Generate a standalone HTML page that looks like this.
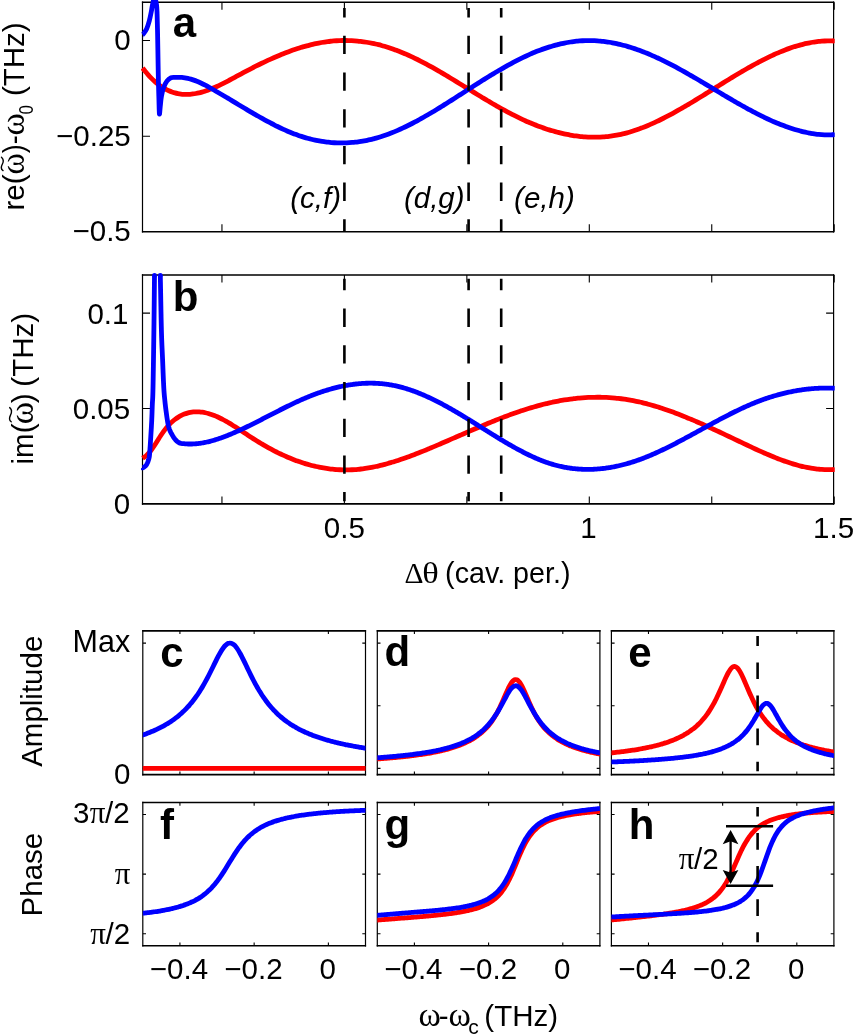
<!DOCTYPE html>
<html><head><meta charset="utf-8"><title>figure</title><style>
html,body{margin:0;padding:0;background:#fff;width:853px;height:1035px;overflow:hidden}
svg{display:block;will-change:transform}
</style></head><body>
<svg width="853" height="1035" viewBox="0 0 853 1035">
<rect width="853" height="1035" fill="#fff"/>
<defs>
<clipPath id="ca"><rect x="141.00" y="0.00" width="693.70" height="233.30"/></clipPath>
<clipPath id="cb"><rect x="141.00" y="273.70" width="693.70" height="231.70"/></clipPath>
<clipPath id="cc"><rect x="142.80" y="626.90" width="222.70" height="151.70"/></clipPath>
<clipPath id="cd"><rect x="377.30" y="626.90" width="222.60" height="151.70"/></clipPath>
<clipPath id="ce"><rect x="611.40" y="626.90" width="222.50" height="151.70"/></clipPath>
<clipPath id="cf"><rect x="142.80" y="798.50" width="222.70" height="151.20"/></clipPath>
<clipPath id="cg"><rect x="377.30" y="798.50" width="222.60" height="151.20"/></clipPath>
<clipPath id="ch"><rect x="611.40" y="798.50" width="222.50" height="151.20"/></clipPath>
</defs>
<path d="M221.95,2.30v7.50M221.95,231.80v-7.50M344.40,2.30v7.50M344.40,231.80v-7.50M466.85,2.30v7.50M466.85,231.80v-7.50M589.30,2.30v7.50M589.30,231.80v-7.50M711.75,2.30v7.50M711.75,231.80v-7.50M834.20,2.30v7.50M834.20,231.80v-7.50M142.50,40.55h7.50M833.60,40.55h-7.50M142.50,136.20h7.50M833.60,136.20h-7.50" fill="none" stroke="#000" stroke-width="1.1"/>
<path d="M142.50,1.50V232.60M833.60,1.50V232.60" fill="none" stroke="#000" stroke-width="1.2"/>
<path d="M141.90,2.30H834.20M141.90,231.80H834.20" fill="none" stroke="#000" stroke-width="1.6"/>
<path d="M221.95,275.00v7.50M221.95,503.90v-7.50M344.40,275.00v7.50M344.40,503.90v-7.50M466.85,275.00v7.50M466.85,503.90v-7.50M589.30,275.00v7.50M589.30,503.90v-7.50M711.75,275.00v7.50M711.75,503.90v-7.50M834.20,275.00v7.50M834.20,503.90v-7.50M142.50,313.10h7.50M833.60,313.10h-7.50M142.50,408.50h7.50M833.60,408.50h-7.50" fill="none" stroke="#000" stroke-width="1.1"/>
<path d="M142.50,274.20V504.70M833.60,274.20V504.70" fill="none" stroke="#000" stroke-width="1.2"/>
<path d="M141.90,275.00H834.20M141.90,503.90H834.20" fill="none" stroke="#000" stroke-width="1.6"/>
<path d="M179.92,630.90v3.20M179.92,774.60v-3.20M254.15,630.90v3.20M254.15,774.60v-3.20M328.38,630.90v3.20M328.38,774.60v-3.20M142.80,643.10h3.20M365.50,643.10h-3.20M142.80,768.40h3.20M365.50,768.40h-3.20" fill="none" stroke="#000" stroke-width="1.1"/>
<path d="M142.80,630.10V775.40M365.50,630.10V775.40" fill="none" stroke="#000" stroke-width="1.2"/>
<path d="M142.20,630.90H366.10M142.20,774.60H366.10" fill="none" stroke="#000" stroke-width="1.6"/>
<path d="M414.40,630.90v3.20M414.40,774.60v-3.20M488.60,630.90v3.20M488.60,774.60v-3.20M562.80,630.90v3.20M562.80,774.60v-3.20M377.30,643.10h3.20M599.90,643.10h-3.20M377.30,705.70h3.20M599.90,705.70h-3.20M377.30,768.40h3.20M599.90,768.40h-3.20" fill="none" stroke="#000" stroke-width="1.1"/>
<path d="M377.30,630.10V775.40M599.90,630.10V775.40" fill="none" stroke="#000" stroke-width="1.2"/>
<path d="M376.70,630.90H600.50M376.70,774.60H600.50" fill="none" stroke="#000" stroke-width="1.6"/>
<path d="M648.48,630.90v3.20M648.48,774.60v-3.20M722.65,630.90v3.20M722.65,774.60v-3.20M796.82,630.90v3.20M796.82,774.60v-3.20M611.40,643.10h3.20M833.90,643.10h-3.20M611.40,705.70h3.20M833.90,705.70h-3.20M611.40,768.40h3.20M833.90,768.40h-3.20" fill="none" stroke="#000" stroke-width="1.1"/>
<path d="M611.40,630.10V775.40M833.90,630.10V775.40" fill="none" stroke="#000" stroke-width="1.2"/>
<path d="M610.80,630.90H834.50M610.80,774.60H834.50" fill="none" stroke="#000" stroke-width="1.6"/>
<path d="M179.92,802.50v3.20M179.92,945.70v-3.20M254.15,802.50v3.20M254.15,945.70v-3.20M328.38,802.50v3.20M328.38,945.70v-3.20M142.80,814.50h3.20M365.50,814.50h-3.20M142.80,874.10h3.20M365.50,874.10h-3.20M142.80,933.80h3.20M365.50,933.80h-3.20" fill="none" stroke="#000" stroke-width="1.1"/>
<path d="M142.80,801.70V946.50M365.50,801.70V946.50" fill="none" stroke="#000" stroke-width="1.2"/>
<path d="M142.20,802.50H366.10M142.20,945.70H366.10" fill="none" stroke="#000" stroke-width="1.6"/>
<path d="M414.40,802.50v3.20M414.40,945.70v-3.20M488.60,802.50v3.20M488.60,945.70v-3.20M562.80,802.50v3.20M562.80,945.70v-3.20M377.30,814.50h3.20M599.90,814.50h-3.20M377.30,874.10h3.20M599.90,874.10h-3.20M377.30,933.80h3.20M599.90,933.80h-3.20" fill="none" stroke="#000" stroke-width="1.1"/>
<path d="M377.30,801.70V946.50M599.90,801.70V946.50" fill="none" stroke="#000" stroke-width="1.2"/>
<path d="M376.70,802.50H600.50M376.70,945.70H600.50" fill="none" stroke="#000" stroke-width="1.6"/>
<path d="M648.48,802.50v3.20M648.48,945.70v-3.20M722.65,802.50v3.20M722.65,945.70v-3.20M796.82,802.50v3.20M796.82,945.70v-3.20M611.40,814.50h3.20M833.90,814.50h-3.20M611.40,874.10h3.20M833.90,874.10h-3.20M611.40,933.80h3.20M833.90,933.80h-3.20" fill="none" stroke="#000" stroke-width="1.1"/>
<path d="M611.40,801.70V946.50M833.90,801.70V946.50" fill="none" stroke="#000" stroke-width="1.2"/>
<path d="M610.80,802.50H834.50M610.80,945.70H834.50" fill="none" stroke="#000" stroke-width="1.6"/>
<path d="M142.50,68.00 C142.92,68.51 144.08,69.96 145.00,71.07 C145.92,72.17 147.00,73.50 147.99,74.63 C148.99,75.76 149.99,76.84 150.99,77.86 C151.99,78.88 152.98,79.84 153.98,80.76 C154.98,81.67 155.98,82.53 156.98,83.34 C157.97,84.16 158.97,84.92 159.97,85.63 C160.97,86.34 161.97,87.00 162.96,87.62 C163.96,88.23 164.96,88.80 165.96,89.33 C166.96,89.85 167.95,90.33 168.95,90.77 C169.95,91.21 170.95,91.60 171.95,91.95 C172.94,92.30 173.94,92.61 174.94,92.89 C175.94,93.16 176.94,93.39 177.93,93.59 C178.93,93.78 179.93,93.94 180.93,94.06 C181.92,94.19 182.92,94.27 183.92,94.33 C184.92,94.38 185.92,94.40 186.91,94.39 C187.91,94.38 188.91,94.34 189.91,94.27 C190.91,94.19 191.90,94.09 192.90,93.96 C193.90,93.83 194.90,93.67 195.90,93.49 C196.89,93.30 197.89,93.09 198.89,92.86 C199.89,92.63 200.89,92.37 201.88,92.09 C202.88,91.81 203.88,91.50 204.88,91.18 C205.88,90.86 206.87,90.51 207.87,90.15 C208.87,89.79 209.87,89.41 210.87,89.01 C211.86,88.62 212.86,88.20 213.86,87.78 C214.86,87.35 215.86,86.90 216.85,86.45 C217.85,86.00 218.85,85.53 219.85,85.05 C220.85,84.57 221.84,84.08 222.84,83.58 C223.84,83.08 224.84,82.57 225.84,82.06 C226.83,81.54 227.83,81.02 228.83,80.50 C229.83,79.97 230.83,79.44 231.82,78.90 C232.82,78.37 233.82,77.83 234.82,77.29 C235.82,76.75 236.81,76.20 237.81,75.66 C238.81,75.12 239.81,74.58 240.81,74.04 C241.80,73.50 242.80,72.97 243.80,72.43 C244.80,71.90 245.80,71.37 246.79,70.85 C247.79,70.32 248.79,69.80 249.79,69.28 C250.78,68.76 251.78,68.25 252.78,67.74 C253.78,67.23 254.78,66.72 255.77,66.22 C256.77,65.72 257.77,65.22 258.77,64.73 C259.77,64.24 260.76,63.75 261.76,63.27 C262.76,62.78 263.76,62.31 264.76,61.83 C265.75,61.36 266.75,60.89 267.75,60.43 C268.75,59.97 269.75,59.51 270.74,59.06 C271.74,58.61 272.74,58.17 273.74,57.73 C274.74,57.29 275.73,56.86 276.73,56.43 C277.73,56.00 278.73,55.58 279.73,55.17 C280.72,54.76 281.72,54.35 282.72,53.95 C283.72,53.55 284.72,53.16 285.71,52.77 C286.71,52.39 287.71,52.01 288.71,51.64 C289.71,51.27 290.70,50.91 291.70,50.55 C292.70,50.19 293.70,49.85 294.70,49.51 C295.69,49.17 296.69,48.84 297.69,48.51 C298.69,48.19 299.69,47.87 300.68,47.57 C301.68,47.26 302.68,46.96 303.68,46.67 C304.68,46.39 305.67,46.10 306.67,45.83 C307.67,45.56 308.67,45.30 309.67,45.05 C310.66,44.80 311.66,44.55 312.66,44.32 C313.66,44.09 314.66,43.86 315.65,43.65 C316.65,43.44 317.65,43.23 318.65,43.04 C319.64,42.85 320.64,42.67 321.64,42.49 C322.64,42.32 323.64,42.16 324.63,42.01 C325.63,41.86 326.63,41.72 327.63,41.59 C328.63,41.46 329.62,41.34 330.62,41.24 C331.62,41.13 332.62,41.04 333.62,40.95 C334.61,40.87 335.61,40.80 336.61,40.74 C337.61,40.67 338.61,40.63 339.60,40.59 C340.60,40.55 341.60,40.52 342.60,40.50 C343.60,40.49 344.59,40.48 345.59,40.49 C346.59,40.50 347.59,40.51 348.59,40.54 C349.58,40.57 350.58,40.61 351.58,40.66 C352.58,40.71 353.58,40.77 354.57,40.85 C355.57,40.92 356.57,41.00 357.57,41.10 C358.57,41.19 359.56,41.30 360.56,41.42 C361.56,41.53 362.56,41.66 363.56,41.80 C364.55,41.94 365.55,42.09 366.55,42.25 C367.55,42.41 368.55,42.58 369.54,42.76 C370.54,42.95 371.54,43.14 372.54,43.34 C373.54,43.55 374.53,43.76 375.53,43.99 C376.53,44.21 377.53,44.45 378.53,44.70 C379.52,44.94 380.52,45.20 381.52,45.47 C382.52,45.74 383.52,46.02 384.51,46.31 C385.51,46.60 386.51,46.90 387.51,47.21 C388.50,47.52 389.50,47.84 390.50,48.18 C391.50,48.51 392.50,48.85 393.49,49.20 C394.49,49.56 395.49,49.92 396.49,50.30 C397.49,50.67 398.48,51.06 399.48,51.45 C400.48,51.85 401.48,52.25 402.48,52.66 C403.47,53.08 404.47,53.50 405.47,53.93 C406.47,54.37 407.47,54.81 408.46,55.26 C409.46,55.71 410.46,56.17 411.46,56.63 C412.46,57.10 413.45,57.57 414.45,58.06 C415.45,58.54 416.45,59.03 417.45,59.53 C418.44,60.02 419.44,60.53 420.44,61.04 C421.44,61.55 422.44,62.07 423.43,62.59 C424.43,63.12 425.43,63.65 426.43,64.18 C427.43,64.72 428.42,65.26 429.42,65.81 C430.42,66.36 431.42,66.91 432.42,67.47 C433.41,68.03 434.41,68.59 435.41,69.16 C436.41,69.73 437.41,70.30 438.40,70.88 C439.40,71.45 440.40,72.04 441.40,72.62 C442.40,73.20 443.39,73.79 444.39,74.38 C445.39,74.98 446.39,75.57 447.39,76.17 C448.38,76.77 449.38,77.37 450.38,77.97 C451.38,78.57 452.38,79.18 453.37,79.78 C454.37,80.39 455.37,81.00 456.37,81.61 C457.36,82.22 458.36,82.83 459.36,83.44 C460.36,84.06 461.36,84.67 462.35,85.28 C463.35,85.90 464.35,86.51 465.35,87.13 C466.35,87.74 467.34,88.36 468.34,88.97 C469.34,89.59 470.34,90.20 471.34,90.82 C472.33,91.43 473.33,92.05 474.33,92.66 C475.33,93.27 476.33,93.88 477.32,94.49 C478.32,95.10 479.32,95.71 480.32,96.31 C481.32,96.92 482.31,97.52 483.31,98.12 C484.31,98.72 485.31,99.32 486.31,99.92 C487.30,100.51 488.30,101.11 489.30,101.69 C490.30,102.28 491.30,102.87 492.29,103.45 C493.29,104.03 494.29,104.61 495.29,105.19 C496.29,105.76 497.28,106.33 498.28,106.90 C499.28,107.46 500.28,108.02 501.28,108.58 C502.27,109.13 503.27,109.68 504.27,110.22 C505.27,110.77 506.27,111.31 507.26,111.84 C508.26,112.37 509.26,112.90 510.26,113.42 C511.26,113.94 512.25,114.45 513.25,114.96 C514.25,115.47 515.25,115.97 516.25,116.46 C517.24,116.95 518.24,117.44 519.24,117.92 C520.24,118.40 521.24,118.87 522.23,119.33 C523.23,119.79 524.23,120.25 525.23,120.69 C526.22,121.14 527.22,121.58 528.22,122.01 C529.22,122.45 530.22,122.87 531.21,123.29 C532.21,123.70 533.21,124.11 534.21,124.51 C535.21,124.91 536.20,125.30 537.20,125.68 C538.20,126.07 539.20,126.44 540.20,126.81 C541.19,127.17 542.19,127.53 543.19,127.88 C544.19,128.23 545.19,128.57 546.18,128.90 C547.18,129.23 548.18,129.55 549.18,129.86 C550.18,130.18 551.17,130.48 552.17,130.77 C553.17,131.07 554.17,131.35 555.17,131.63 C556.16,131.90 557.16,132.17 558.16,132.43 C559.16,132.68 560.16,132.93 561.15,133.17 C562.15,133.40 563.15,133.63 564.15,133.85 C565.15,134.07 566.14,134.27 567.14,134.47 C568.14,134.67 569.14,134.86 570.14,135.03 C571.13,135.21 572.13,135.38 573.13,135.53 C574.13,135.69 575.13,135.83 576.12,135.97 C577.12,136.10 578.12,136.23 579.12,136.34 C580.12,136.46 581.11,136.56 582.11,136.65 C583.11,136.74 584.11,136.82 585.11,136.89 C586.10,136.96 587.10,137.02 588.10,137.07 C589.10,137.11 590.10,137.15 591.09,137.18 C592.09,137.20 593.09,137.21 594.09,137.21 C595.08,137.22 596.08,137.21 597.08,137.18 C598.08,137.16 599.08,137.13 600.07,137.08 C601.07,137.03 602.07,136.98 603.07,136.91 C604.07,136.84 605.06,136.75 606.06,136.66 C607.06,136.56 608.06,136.46 609.06,136.34 C610.05,136.22 611.05,136.09 612.05,135.94 C613.05,135.80 614.05,135.64 615.04,135.47 C616.04,135.30 617.04,135.12 618.04,134.92 C619.04,134.73 620.03,134.52 621.03,134.29 C622.03,134.07 623.03,133.84 624.03,133.59 C625.02,133.34 626.02,133.08 627.02,132.81 C628.02,132.54 629.02,132.25 630.01,131.96 C631.01,131.66 632.01,131.35 633.01,131.03 C634.01,130.71 635.00,130.38 636.00,130.04 C637.00,129.70 638.00,129.35 639.00,128.99 C639.99,128.62 640.99,128.25 641.99,127.87 C642.99,127.48 643.99,127.09 644.98,126.69 C645.98,126.29 646.98,125.87 647.98,125.45 C648.98,125.03 649.97,124.60 650.97,124.16 C651.97,123.72 652.97,123.27 653.97,122.82 C654.96,122.36 655.96,121.89 656.96,121.42 C657.96,120.95 658.96,120.47 659.95,119.98 C660.95,119.49 661.95,118.99 662.95,118.49 C663.94,117.99 664.94,117.48 665.94,116.96 C666.94,116.44 667.94,115.92 668.93,115.39 C669.93,114.86 670.93,114.32 671.93,113.78 C672.93,113.24 673.92,112.69 674.92,112.14 C675.92,111.59 676.92,111.03 677.92,110.46 C678.91,109.90 679.91,109.33 680.91,108.76 C681.91,108.19 682.91,107.61 683.90,107.03 C684.90,106.44 685.90,105.86 686.90,105.27 C687.90,104.68 688.89,104.09 689.89,103.49 C690.89,102.89 691.89,102.29 692.89,101.69 C693.88,101.09 694.88,100.48 695.88,99.87 C696.88,99.26 697.88,98.65 698.87,98.04 C699.87,97.43 700.87,96.81 701.87,96.19 C702.87,95.58 703.86,94.96 704.86,94.34 C705.86,93.72 706.86,93.10 707.86,92.48 C708.85,91.86 709.85,91.23 710.85,90.61 C711.85,89.99 712.85,89.36 713.84,88.74 C714.84,88.12 715.84,87.49 716.84,86.87 C717.84,86.25 718.83,85.63 719.83,85.01 C720.83,84.38 721.83,83.76 722.83,83.15 C723.82,82.53 724.82,81.91 725.82,81.29 C726.82,80.68 727.82,80.06 728.81,79.45 C729.81,78.84 730.81,78.23 731.81,77.62 C732.80,77.01 733.80,76.41 734.80,75.80 C735.80,75.20 736.80,74.60 737.79,74.01 C738.79,73.41 739.79,72.82 740.79,72.23 C741.79,71.64 742.78,71.06 743.78,70.48 C744.78,69.90 745.78,69.32 746.78,68.75 C747.77,68.18 748.77,67.61 749.77,67.05 C750.77,66.49 751.77,65.93 752.76,65.38 C753.76,64.83 754.76,64.28 755.76,63.74 C756.76,63.20 757.75,62.67 758.75,62.14 C759.75,61.61 760.75,61.09 761.75,60.58 C762.74,60.06 763.74,59.55 764.74,59.05 C765.74,58.55 766.74,58.06 767.73,57.57 C768.73,57.09 769.73,56.61 770.73,56.14 C771.73,55.67 772.72,55.21 773.72,54.75 C774.72,54.30 775.72,53.85 776.72,53.42 C777.71,52.98 778.71,52.55 779.71,52.13 C780.71,51.72 781.71,51.31 782.70,50.91 C783.70,50.51 784.70,50.12 785.70,49.74 C786.70,49.36 787.69,48.99 788.69,48.63 C789.69,48.27 790.69,47.92 791.69,47.58 C792.68,47.25 793.68,46.92 794.68,46.60 C795.68,46.29 796.68,45.99 797.67,45.69 C798.67,45.40 799.67,45.12 800.67,44.85 C801.66,44.58 802.66,44.33 803.66,44.09 C804.66,43.84 805.66,43.61 806.65,43.39 C807.65,43.18 808.65,42.97 809.65,42.78 C810.65,42.59 811.64,42.41 812.64,42.25 C813.64,42.08 814.64,41.93 815.64,41.80 C816.63,41.66 817.63,41.54 818.63,41.44 C819.63,41.33 820.63,41.24 821.62,41.16 C822.62,41.08 823.62,41.02 824.62,40.98 C825.62,40.93 826.61,40.90 827.61,40.88 C828.61,40.87 829.61,40.87 830.61,40.89 C831.60,40.91 833.10,40.98 833.60,40.99" fill="none" stroke="#ff0000" stroke-width="4.80" stroke-linejoin="round" stroke-linecap="butt" clip-path="url(#ca)"/>
<circle cx="833.60" cy="40.99" r="2.40" fill="#ff0000" clip-path="url(#ca)"/>
<path d="M142.50,34.60 C142.62,34.53 142.52,35.13 143.20,34.20 C143.88,33.27 145.58,31.22 146.60,29.00 C147.62,26.78 148.52,23.80 149.30,20.90 C150.08,18.00 150.75,14.38 151.30,11.60 C151.85,8.82 152.05,6.55 152.60,4.20 C153.15,1.85 153.95,-2.55 154.60,-2.50 C155.25,-2.45 156.08,1.75 156.50,4.50 C156.92,7.25 156.92,8.95 157.10,14.00 C157.28,19.05 157.45,27.47 157.60,34.80 C157.75,42.13 157.87,50.27 158.00,58.00 C158.13,65.73 158.25,74.43 158.40,81.20 C158.55,87.97 158.73,93.13 158.90,98.60 C159.07,104.07 159.17,112.77 159.40,114.00 C159.63,115.23 159.97,108.92 160.30,106.00 C160.63,103.08 160.88,99.48 161.40,96.50 C161.92,93.52 162.48,90.65 163.40,88.10 C164.32,85.55 165.63,82.93 166.90,81.20 C168.17,79.47 169.51,78.33 171.00,77.70 C172.49,77.07 174.56,77.50 175.87,77.43 C177.18,77.36 177.86,77.29 178.86,77.28 C179.86,77.28 180.85,77.32 181.85,77.40 C182.84,77.48 183.84,77.61 184.84,77.77 C185.83,77.92 186.83,78.12 187.83,78.35 C188.82,78.58 189.82,78.85 190.82,79.15 C191.81,79.44 192.81,79.77 193.81,80.13 C194.80,80.48 195.80,80.86 196.80,81.27 C197.79,81.67 198.79,82.11 199.79,82.56 C200.78,83.01 201.78,83.48 202.78,83.97 C203.77,84.46 204.77,84.97 205.77,85.48 C206.76,86.00 207.76,86.54 208.76,87.09 C209.75,87.63 210.75,88.19 211.75,88.75 C212.74,89.31 213.74,89.89 214.73,90.46 C215.73,91.03 216.73,91.61 217.72,92.20 C218.72,92.78 219.72,93.36 220.71,93.95 C221.71,94.54 222.71,95.13 223.70,95.72 C224.70,96.32 225.70,96.91 226.69,97.51 C227.69,98.10 228.69,98.70 229.68,99.30 C230.68,99.90 231.68,100.50 232.67,101.10 C233.67,101.70 234.67,102.30 235.66,102.90 C236.66,103.50 237.66,104.10 238.65,104.70 C239.65,105.30 240.65,105.90 241.64,106.50 C242.64,107.10 243.64,107.69 244.63,108.29 C245.63,108.88 246.62,109.48 247.62,110.07 C248.62,110.66 249.61,111.25 250.61,111.83 C251.61,112.42 252.60,113.00 253.60,113.58 C254.60,114.16 255.59,114.73 256.59,115.30 C257.59,115.88 258.58,116.44 259.58,117.01 C260.58,117.57 261.57,118.13 262.57,118.68 C263.57,119.23 264.56,119.78 265.56,120.32 C266.56,120.87 267.55,121.40 268.55,121.93 C269.55,122.46 270.54,122.99 271.54,123.50 C272.54,124.02 273.53,124.53 274.53,125.03 C275.53,125.54 276.52,126.03 277.52,126.52 C278.51,127.01 279.51,127.49 280.51,127.96 C281.50,128.43 282.50,128.89 283.50,129.35 C284.49,129.80 285.49,130.24 286.49,130.68 C287.48,131.11 288.48,131.54 289.48,131.95 C290.47,132.37 291.47,132.77 292.47,133.17 C293.46,133.56 294.46,133.95 295.46,134.32 C296.45,134.69 297.45,135.05 298.45,135.40 C299.44,135.75 300.44,136.09 301.44,136.41 C302.43,136.74 303.43,137.05 304.43,137.35 C305.42,137.65 306.42,137.94 307.42,138.21 C308.41,138.49 309.41,138.75 310.40,139.01 C311.40,139.26 312.40,139.50 313.39,139.73 C314.39,139.95 315.39,140.17 316.38,140.37 C317.38,140.58 318.38,140.77 319.37,140.95 C320.37,141.13 321.37,141.29 322.36,141.45 C323.36,141.60 324.36,141.75 325.35,141.88 C326.35,142.01 327.35,142.13 328.34,142.23 C329.34,142.34 330.34,142.44 331.33,142.52 C332.33,142.60 333.33,142.67 334.32,142.73 C335.32,142.79 336.32,142.83 337.31,142.87 C338.31,142.90 339.31,142.93 340.30,142.94 C341.30,142.95 342.29,142.94 343.29,142.93 C344.29,142.92 345.28,142.89 346.28,142.85 C347.28,142.82 348.27,142.77 349.27,142.70 C350.27,142.64 351.26,142.57 352.26,142.48 C353.26,142.40 354.25,142.30 355.25,142.19 C356.25,142.08 357.24,141.96 358.24,141.82 C359.24,141.69 360.23,141.54 361.23,141.39 C362.23,141.23 363.22,141.06 364.22,140.88 C365.22,140.69 366.21,140.50 367.21,140.29 C368.21,140.09 369.20,139.87 370.20,139.64 C371.20,139.41 372.19,139.17 373.19,138.92 C374.18,138.66 375.18,138.40 376.18,138.12 C377.17,137.84 378.17,137.55 379.17,137.25 C380.16,136.95 381.16,136.64 382.16,136.31 C383.15,135.99 384.15,135.65 385.15,135.30 C386.14,134.95 387.14,134.59 388.14,134.23 C389.13,133.86 390.13,133.47 391.13,133.08 C392.12,132.69 393.12,132.29 394.12,131.88 C395.11,131.47 396.11,131.05 397.11,130.62 C398.10,130.19 399.10,129.75 400.10,129.30 C401.09,128.85 402.09,128.39 403.09,127.92 C404.08,127.46 405.08,126.98 406.07,126.50 C407.07,126.01 408.07,125.52 409.06,125.02 C410.06,124.52 411.06,124.01 412.05,123.50 C413.05,122.98 414.05,122.46 415.04,121.93 C416.04,121.40 417.04,120.87 418.03,120.32 C419.03,119.78 420.03,119.23 421.02,118.68 C422.02,118.12 423.02,117.56 424.01,116.99 C425.01,116.43 426.01,115.86 427.00,115.28 C428.00,114.70 429.00,114.12 429.99,113.53 C430.99,112.94 431.99,112.35 432.98,111.75 C433.98,111.16 434.98,110.55 435.97,109.95 C436.97,109.34 437.96,108.73 438.96,108.12 C439.96,107.51 440.95,106.89 441.95,106.27 C442.95,105.66 443.94,105.03 444.94,104.41 C445.94,103.78 446.93,103.16 447.93,102.53 C448.93,101.90 449.92,101.26 450.92,100.63 C451.92,100.00 452.91,99.36 453.91,98.72 C454.91,98.09 455.90,97.45 456.90,96.81 C457.90,96.17 458.89,95.53 459.89,94.89 C460.89,94.25 461.88,93.61 462.88,92.97 C463.88,92.32 464.87,91.68 465.87,91.04 C466.87,90.40 467.86,89.76 468.86,89.12 C469.85,88.48 470.85,87.84 471.85,87.20 C472.84,86.56 473.84,85.92 474.84,85.29 C475.83,84.65 476.83,84.02 477.83,83.39 C478.82,82.75 479.82,82.12 480.82,81.50 C481.81,80.87 482.81,80.24 483.81,79.62 C484.80,79.00 485.80,78.38 486.80,77.76 C487.79,77.14 488.79,76.53 489.79,75.92 C490.78,75.31 491.78,74.70 492.78,74.10 C493.77,73.50 494.77,72.90 495.77,72.31 C496.76,71.71 497.76,71.12 498.76,70.54 C499.75,69.95 500.75,69.37 501.74,68.80 C502.74,68.22 503.74,67.65 504.73,67.09 C505.73,66.53 506.73,65.97 507.72,65.42 C508.72,64.87 509.72,64.32 510.71,63.78 C511.71,63.24 512.71,62.71 513.70,62.18 C514.70,61.66 515.70,61.14 516.69,60.63 C517.69,60.12 518.69,59.61 519.68,59.11 C520.68,58.62 521.68,58.13 522.67,57.65 C523.67,57.17 524.67,56.70 525.66,56.23 C526.66,55.77 527.66,55.31 528.65,54.87 C529.65,54.42 530.65,53.98 531.64,53.56 C532.64,53.13 533.63,52.71 534.63,52.30 C535.63,51.89 536.62,51.49 537.62,51.10 C538.62,50.71 539.61,50.33 540.61,49.96 C541.61,49.59 542.60,49.23 543.60,48.88 C544.60,48.53 545.59,48.19 546.59,47.86 C547.59,47.53 548.58,47.21 549.58,46.90 C550.58,46.59 551.57,46.29 552.57,46.00 C553.57,45.71 554.56,45.44 555.56,45.17 C556.56,44.90 557.55,44.65 558.55,44.40 C559.55,44.16 560.54,43.92 561.54,43.70 C562.54,43.48 563.53,43.26 564.53,43.06 C565.52,42.86 566.52,42.67 567.52,42.50 C568.51,42.32 569.51,42.15 570.51,42.00 C571.50,41.84 572.50,41.70 573.50,41.57 C574.49,41.44 575.49,41.32 576.49,41.22 C577.48,41.11 578.48,41.02 579.48,40.93 C580.47,40.85 581.47,40.78 582.47,40.73 C583.46,40.67 584.46,40.63 585.46,40.59 C586.45,40.56 587.45,40.54 588.45,40.54 C589.44,40.53 590.44,40.54 591.44,40.56 C592.43,40.58 593.43,40.61 594.43,40.66 C595.42,40.70 596.42,40.76 597.41,40.83 C598.41,40.90 599.41,40.98 600.40,41.08 C601.40,41.17 602.40,41.28 603.39,41.40 C604.39,41.52 605.39,41.65 606.38,41.79 C607.38,41.93 608.38,42.09 609.37,42.25 C610.37,42.42 611.37,42.59 612.36,42.78 C613.36,42.97 614.36,43.17 615.35,43.38 C616.35,43.58 617.35,43.81 618.34,44.04 C619.34,44.27 620.34,44.51 621.33,44.76 C622.33,45.01 623.33,45.27 624.32,45.54 C625.32,45.81 626.32,46.10 627.31,46.39 C628.31,46.68 629.30,46.98 630.30,47.29 C631.30,47.60 632.29,47.92 633.29,48.25 C634.29,48.58 635.28,48.92 636.28,49.26 C637.28,49.61 638.27,49.97 639.27,50.33 C640.27,50.70 641.26,51.07 642.26,51.45 C643.26,51.83 644.25,52.22 645.25,52.62 C646.25,53.02 647.24,53.43 648.24,53.84 C649.24,54.25 650.23,54.68 651.23,55.11 C652.23,55.54 653.22,55.97 654.22,56.42 C655.22,56.86 656.21,57.32 657.21,57.78 C658.21,58.23 659.20,58.70 660.20,59.17 C661.19,59.65 662.19,60.13 663.19,60.61 C664.18,61.10 665.18,61.59 666.18,62.09 C667.17,62.59 668.17,63.10 669.17,63.61 C670.16,64.12 671.16,64.64 672.16,65.16 C673.15,65.68 674.15,66.21 675.15,66.74 C676.14,67.28 677.14,67.81 678.14,68.36 C679.13,68.90 680.13,69.45 681.13,70.00 C682.12,70.55 683.12,71.11 684.12,71.67 C685.11,72.23 686.11,72.79 687.11,73.36 C688.10,73.92 689.10,74.50 690.10,75.07 C691.09,75.64 692.09,76.22 693.08,76.80 C694.08,77.38 695.08,77.96 696.07,78.54 C697.07,79.13 698.07,79.71 699.06,80.30 C700.06,80.89 701.06,81.48 702.05,82.07 C703.05,82.66 704.05,83.26 705.04,83.85 C706.04,84.45 707.04,85.04 708.03,85.64 C709.03,86.23 710.03,86.83 711.02,87.43 C712.02,88.02 713.02,88.62 714.01,89.22 C715.01,89.81 716.01,90.41 717.00,91.01 C718.00,91.60 719.00,92.20 719.99,92.79 C720.99,93.39 721.99,93.98 722.98,94.58 C723.98,95.17 724.97,95.76 725.97,96.35 C726.97,96.94 727.96,97.53 728.96,98.11 C729.96,98.70 730.95,99.28 731.95,99.86 C732.95,100.44 733.94,101.02 734.94,101.60 C735.94,102.17 736.93,102.75 737.93,103.32 C738.93,103.88 739.92,104.45 740.92,105.01 C741.92,105.58 742.91,106.13 743.91,106.69 C744.91,107.24 745.90,107.79 746.90,108.34 C747.90,108.89 748.89,109.43 749.89,109.96 C750.89,110.50 751.88,111.03 752.88,111.56 C753.88,112.08 754.87,112.61 755.87,113.12 C756.86,113.64 757.86,114.15 758.86,114.65 C759.85,115.15 760.85,115.65 761.85,116.14 C762.84,116.63 763.84,117.12 764.84,117.59 C765.83,118.07 766.83,118.54 767.83,119.01 C768.82,119.47 769.82,119.92 770.82,120.37 C771.81,120.82 772.81,121.26 773.81,121.69 C774.80,122.13 775.80,122.55 776.80,122.97 C777.79,123.38 778.79,123.79 779.79,124.19 C780.78,124.59 781.78,124.98 782.78,125.36 C783.77,125.74 784.77,126.11 785.77,126.47 C786.76,126.83 787.76,127.19 788.75,127.53 C789.75,127.87 790.75,128.20 791.74,128.52 C792.74,128.84 793.74,129.15 794.73,129.45 C795.73,129.75 796.73,130.04 797.72,130.32 C798.72,130.60 799.72,130.86 800.71,131.12 C801.71,131.37 802.71,131.62 803.70,131.85 C804.70,132.08 805.70,132.30 806.69,132.50 C807.69,132.71 808.69,132.90 809.68,133.09 C810.68,133.27 811.68,133.43 812.67,133.59 C813.67,133.74 814.67,133.89 815.66,134.01 C816.66,134.14 817.66,134.26 818.65,134.36 C819.65,134.46 820.64,134.54 821.64,134.62 C822.64,134.69 823.63,134.75 824.63,134.79 C825.63,134.83 826.62,134.86 827.62,134.87 C828.62,134.88 829.61,134.88 830.61,134.86 C831.61,134.84 833.10,134.78 833.60,134.76" fill="none" stroke="#0000ff" stroke-width="4.80" stroke-linejoin="round" stroke-linecap="butt" clip-path="url(#ca)"/>
<circle cx="833.60" cy="134.76" r="2.40" fill="#0000ff" clip-path="url(#ca)"/>
<path d="M142.50,458.16 C143.00,457.85 144.49,457.12 145.49,456.34 C146.49,455.56 147.49,454.56 148.48,453.46 C149.48,452.35 150.48,451.07 151.48,449.73 C152.47,448.38 153.47,446.89 154.47,445.39 C155.47,443.88 156.46,442.27 157.46,440.71 C158.46,439.15 159.46,437.53 160.45,436.01 C161.45,434.49 162.45,432.98 163.45,431.59 C164.44,430.21 165.44,428.91 166.44,427.71 C167.44,426.50 168.43,425.39 169.43,424.36 C170.43,423.32 171.42,422.38 172.42,421.50 C173.42,420.62 174.42,419.82 175.41,419.09 C176.41,418.35 177.41,417.69 178.41,417.08 C179.40,416.47 180.40,415.92 181.40,415.43 C182.40,414.93 183.39,414.50 184.39,414.11 C185.39,413.72 186.39,413.39 187.38,413.10 C188.38,412.82 189.38,412.58 190.38,412.39 C191.37,412.20 192.37,412.06 193.37,411.96 C194.36,411.87 195.36,411.81 196.36,411.80 C197.36,411.79 198.35,411.82 199.35,411.89 C200.35,411.96 201.35,412.07 202.34,412.21 C203.34,412.36 204.34,412.54 205.34,412.75 C206.33,412.97 207.33,413.22 208.33,413.50 C209.33,413.78 210.32,414.10 211.32,414.44 C212.32,414.78 213.32,415.15 214.31,415.54 C215.31,415.94 216.31,416.36 217.31,416.81 C218.30,417.26 219.30,417.73 220.30,418.22 C221.29,418.71 222.29,419.22 223.29,419.75 C224.29,420.28 225.28,420.83 226.28,421.40 C227.28,421.96 228.28,422.54 229.27,423.14 C230.27,423.73 231.27,424.34 232.27,424.96 C233.26,425.57 234.26,426.20 235.26,426.84 C236.26,427.48 237.25,428.12 238.25,428.77 C239.25,429.42 240.25,430.08 241.24,430.74 C242.24,431.40 243.24,432.06 244.24,432.72 C245.23,433.39 246.23,434.05 247.23,434.71 C248.22,435.37 249.22,436.03 250.22,436.68 C251.22,437.34 252.21,437.99 253.21,438.63 C254.21,439.27 255.21,439.90 256.20,440.53 C257.20,441.15 258.20,441.77 259.20,442.38 C260.19,442.98 261.19,443.58 262.19,444.17 C263.19,444.76 264.18,445.34 265.18,445.91 C266.18,446.48 267.18,447.04 268.17,447.59 C269.17,448.14 270.17,448.68 271.16,449.22 C272.16,449.75 273.16,450.27 274.16,450.79 C275.15,451.30 276.15,451.80 277.15,452.30 C278.15,452.79 279.14,453.28 280.14,453.75 C281.14,454.23 282.14,454.69 283.13,455.15 C284.13,455.60 285.13,456.05 286.13,456.48 C287.12,456.92 288.12,457.35 289.12,457.76 C290.12,458.18 291.11,458.58 292.11,458.98 C293.11,459.37 294.11,459.76 295.10,460.13 C296.10,460.51 297.10,460.87 298.09,461.23 C299.09,461.58 300.09,461.93 301.09,462.26 C302.08,462.60 303.08,462.92 304.08,463.23 C305.08,463.54 306.07,463.85 307.07,464.14 C308.07,464.43 309.07,464.71 310.06,464.98 C311.06,465.25 312.06,465.51 313.06,465.76 C314.05,466.01 315.05,466.25 316.05,466.47 C317.05,466.70 318.04,466.92 319.04,467.12 C320.04,467.33 321.04,467.52 322.03,467.70 C323.03,467.89 324.03,468.06 325.02,468.22 C326.02,468.38 327.02,468.53 328.02,468.67 C329.01,468.80 330.01,468.93 331.01,469.05 C332.01,469.16 333.00,469.26 334.00,469.36 C335.00,469.45 336.00,469.53 336.99,469.60 C337.99,469.67 338.99,469.73 339.99,469.77 C340.98,469.82 341.98,469.85 342.98,469.87 C343.98,469.90 344.97,469.91 345.97,469.91 C346.97,469.90 347.96,469.89 348.96,469.87 C349.96,469.84 350.96,469.80 351.95,469.75 C352.95,469.70 353.95,469.64 354.95,469.57 C355.94,469.50 356.94,469.41 357.94,469.32 C358.94,469.22 359.93,469.12 360.93,469.00 C361.93,468.88 362.93,468.76 363.92,468.62 C364.92,468.48 365.92,468.33 366.92,468.18 C367.91,468.02 368.91,467.85 369.91,467.67 C370.91,467.49 371.90,467.31 372.90,467.11 C373.90,466.91 374.89,466.71 375.89,466.49 C376.89,466.28 377.89,466.05 378.88,465.82 C379.88,465.59 380.88,465.35 381.88,465.10 C382.87,464.85 383.87,464.59 384.87,464.33 C385.87,464.06 386.86,463.79 387.86,463.51 C388.86,463.23 389.86,462.95 390.85,462.65 C391.85,462.36 392.85,462.05 393.85,461.75 C394.84,461.44 395.84,461.12 396.84,460.80 C397.84,460.48 398.83,460.15 399.83,459.82 C400.83,459.49 401.82,459.15 402.82,458.80 C403.82,458.46 404.82,458.11 405.81,457.75 C406.81,457.40 407.81,457.03 408.81,456.67 C409.80,456.30 410.80,455.93 411.80,455.56 C412.80,455.18 413.79,454.80 414.79,454.42 C415.79,454.03 416.79,453.65 417.78,453.25 C418.78,452.86 419.78,452.47 420.78,452.07 C421.77,451.67 422.77,451.27 423.77,450.86 C424.76,450.46 425.76,450.05 426.76,449.64 C427.76,449.22 428.75,448.81 429.75,448.39 C430.75,447.98 431.75,447.56 432.74,447.14 C433.74,446.72 434.74,446.30 435.74,445.87 C436.73,445.45 437.73,445.02 438.73,444.60 C439.73,444.17 440.72,443.74 441.72,443.31 C442.72,442.88 443.72,442.45 444.71,442.02 C445.71,441.59 446.71,441.16 447.71,440.72 C448.70,440.29 449.70,439.86 450.70,439.42 C451.69,438.99 452.69,438.55 453.69,438.12 C454.69,437.68 455.68,437.25 456.68,436.81 C457.68,436.38 458.68,435.94 459.67,435.51 C460.67,435.07 461.67,434.64 462.67,434.20 C463.66,433.77 464.66,433.33 465.66,432.90 C466.66,432.47 467.65,432.03 468.65,431.60 C469.65,431.17 470.65,430.74 471.64,430.31 C472.64,429.88 473.64,429.45 474.64,429.02 C475.63,428.59 476.63,428.17 477.63,427.74 C478.62,427.32 479.62,426.89 480.62,426.47 C481.62,426.05 482.61,425.63 483.61,425.21 C484.61,424.79 485.61,424.38 486.60,423.96 C487.60,423.55 488.60,423.14 489.60,422.73 C490.59,422.32 491.59,421.91 492.59,421.51 C493.59,421.11 494.58,420.71 495.58,420.31 C496.58,419.91 497.58,419.51 498.57,419.12 C499.57,418.73 500.57,418.34 501.56,417.95 C502.56,417.57 503.56,417.18 504.56,416.80 C505.55,416.43 506.55,416.05 507.55,415.68 C508.55,415.31 509.54,414.94 510.54,414.57 C511.54,414.21 512.54,413.85 513.53,413.49 C514.53,413.14 515.53,412.79 516.53,412.44 C517.52,412.09 518.52,411.75 519.52,411.41 C520.52,411.07 521.51,410.74 522.51,410.41 C523.51,410.08 524.51,409.76 525.50,409.44 C526.50,409.12 527.50,408.81 528.49,408.50 C529.49,408.19 530.49,407.89 531.49,407.59 C532.48,407.29 533.48,407.00 534.48,406.72 C535.48,406.43 536.47,406.15 537.47,405.88 C538.47,405.60 539.47,405.34 540.46,405.07 C541.46,404.81 542.46,404.55 543.46,404.30 C544.45,404.05 545.45,403.81 546.45,403.57 C547.45,403.34 548.44,403.10 549.44,402.88 C550.44,402.65 551.44,402.43 552.43,402.22 C553.43,402.01 554.43,401.80 555.42,401.60 C556.42,401.40 557.42,401.21 558.42,401.02 C559.41,400.83 560.41,400.65 561.41,400.48 C562.41,400.31 563.40,400.14 564.40,399.98 C565.40,399.82 566.40,399.67 567.39,399.52 C568.39,399.37 569.39,399.23 570.39,399.10 C571.38,398.97 572.38,398.84 573.38,398.72 C574.38,398.60 575.37,398.49 576.37,398.38 C577.37,398.28 578.36,398.18 579.36,398.09 C580.36,398.00 581.36,397.92 582.35,397.84 C583.35,397.76 584.35,397.69 585.35,397.63 C586.34,397.57 587.34,397.52 588.34,397.47 C589.34,397.42 590.33,397.38 591.33,397.35 C592.33,397.32 593.33,397.30 594.32,397.28 C595.32,397.26 596.32,397.25 597.32,397.25 C598.31,397.25 599.31,397.26 600.31,397.27 C601.31,397.29 602.30,397.31 603.30,397.34 C604.30,397.37 605.29,397.41 606.29,397.45 C607.29,397.50 608.29,397.55 609.28,397.61 C610.28,397.68 611.28,397.75 612.28,397.83 C613.27,397.90 614.27,397.99 615.27,398.09 C616.27,398.18 617.26,398.28 618.26,398.39 C619.26,398.51 620.26,398.63 621.25,398.75 C622.25,398.88 623.25,399.02 624.25,399.16 C625.24,399.31 626.24,399.46 627.24,399.63 C628.24,399.79 629.23,399.96 630.23,400.14 C631.23,400.32 632.22,400.51 633.22,400.70 C634.22,400.90 635.22,401.10 636.21,401.31 C637.21,401.52 638.21,401.74 639.21,401.96 C640.20,402.19 641.20,402.42 642.20,402.67 C643.20,402.91 644.19,403.15 645.19,403.41 C646.19,403.66 647.19,403.93 648.18,404.20 C649.18,404.46 650.18,404.74 651.18,405.02 C652.17,405.31 653.17,405.60 654.17,405.89 C655.16,406.19 656.16,406.49 657.16,406.80 C658.16,407.10 659.15,407.42 660.15,407.74 C661.15,408.06 662.15,408.38 663.14,408.72 C664.14,409.05 665.14,409.39 666.14,409.73 C667.13,410.07 668.13,410.42 669.13,410.77 C670.13,411.13 671.12,411.49 672.12,411.85 C673.12,412.21 674.12,412.58 675.11,412.96 C676.11,413.33 677.11,413.71 678.11,414.09 C679.10,414.47 680.10,414.86 681.10,415.25 C682.09,415.65 683.09,416.04 684.09,416.44 C685.09,416.84 686.08,417.25 687.08,417.66 C688.08,418.06 689.08,418.48 690.07,418.89 C691.07,419.31 692.07,419.73 693.07,420.15 C694.06,420.57 695.06,421.00 696.06,421.43 C697.06,421.86 698.05,422.29 699.05,422.73 C700.05,423.16 701.05,423.60 702.04,424.04 C703.04,424.49 704.04,424.93 705.04,425.38 C706.03,425.82 707.03,426.27 708.03,426.73 C709.02,427.18 710.02,427.63 711.02,428.09 C712.02,428.54 713.01,429.00 714.01,429.46 C715.01,429.92 716.01,430.38 717.00,430.85 C718.00,431.31 719.00,431.78 720.00,432.24 C720.99,432.71 721.99,433.18 722.99,433.65 C723.99,434.12 724.98,434.59 725.98,435.06 C726.98,435.53 727.98,436.00 728.97,436.47 C729.97,436.95 730.97,437.42 731.96,437.90 C732.96,438.37 733.96,438.84 734.96,439.32 C735.95,439.79 736.95,440.27 737.95,440.75 C738.95,441.22 739.94,441.70 740.94,442.17 C741.94,442.65 742.94,443.12 743.93,443.60 C744.93,444.07 745.93,444.54 746.93,445.01 C747.92,445.49 748.92,445.96 749.92,446.43 C750.92,446.89 751.91,447.36 752.91,447.83 C753.91,448.29 754.91,448.75 755.90,449.21 C756.90,449.67 757.90,450.13 758.89,450.58 C759.89,451.03 760.89,451.48 761.89,451.92 C762.88,452.37 763.88,452.81 764.88,453.25 C765.88,453.68 766.87,454.11 767.87,454.54 C768.87,454.97 769.87,455.39 770.86,455.81 C771.86,456.22 772.86,456.63 773.86,457.04 C774.85,457.44 775.85,457.84 776.85,458.23 C777.85,458.62 778.84,459.00 779.84,459.38 C780.84,459.76 781.84,460.13 782.83,460.49 C783.83,460.85 784.83,461.21 785.82,461.55 C786.82,461.90 787.82,462.24 788.82,462.56 C789.81,462.89 790.81,463.21 791.81,463.52 C792.81,463.83 793.80,464.14 794.80,464.43 C795.80,464.72 796.80,465.00 797.79,465.27 C798.79,465.54 799.79,465.80 800.79,466.05 C801.78,466.30 802.78,466.54 803.78,466.76 C804.78,466.99 805.77,467.20 806.77,467.41 C807.77,467.61 808.76,467.80 809.76,467.98 C810.76,468.16 811.76,468.32 812.75,468.48 C813.75,468.63 814.75,468.77 815.75,468.89 C816.74,469.02 817.74,469.13 818.74,469.23 C819.74,469.32 820.73,469.41 821.73,469.48 C822.73,469.54 823.73,469.60 824.72,469.64 C825.72,469.67 826.72,469.70 827.72,469.71 C828.71,469.71 829.71,469.70 830.71,469.68 C831.71,469.65 833.20,469.57 833.70,469.55" fill="none" stroke="#ff0000" stroke-width="4.80" stroke-linejoin="round" stroke-linecap="butt" clip-path="url(#cb)"/>
<circle cx="833.70" cy="469.55" r="2.40" fill="#ff0000" clip-path="url(#cb)"/>
<path d="M142.50,467.60 L142.60,467.82 L143.10,467.70 L143.73,467.31 L144.57,466.76 L145.48,466.00 L146.30,465.00 L146.79,464.17 L147.27,463.22 L147.74,462.17 L148.17,461.03 L148.57,459.84 L148.90,458.60 L149.10,457.76 L149.25,457.04 L149.36,456.35 L149.46,455.60 L149.54,454.68 L149.64,453.51 L149.75,451.98 L149.90,450.00 L149.95,449.31 L150.01,448.55 L150.06,447.74 L150.12,446.88 L150.19,445.98 L150.25,445.03 L150.32,444.04 L150.38,443.01 L150.45,441.96 L150.52,440.89 L150.59,439.79 L150.66,438.67 L150.73,437.54 L150.80,436.41 L150.87,435.26 L150.94,434.12 L151.01,432.99 L151.08,431.86 L151.15,430.74 L151.21,429.65 L151.28,428.57 L151.34,427.52 L151.40,426.50 L151.45,425.51 L151.50,424.56 L151.55,423.66 L151.60,422.80 L151.67,421.51 L151.73,420.27 L151.78,419.09 L151.83,417.95 L151.88,416.85 L151.92,415.79 L151.96,414.76 L152.00,413.76 L152.03,412.77 L152.06,411.80 L152.09,410.84 L152.12,409.89 L152.16,408.93 L152.19,407.97 L152.22,407.00 L152.26,406.01 L152.30,405.00 L152.34,404.05 L152.38,403.21 L152.42,402.48 L152.46,401.81 L152.50,401.19 L152.54,400.59 L152.58,399.99 L152.62,399.35 L152.66,398.66 L152.70,397.88 L152.74,397.00 L152.78,395.98 L152.82,394.80 L152.86,393.44 L152.91,391.87 L152.95,390.07 L153.00,388.00 L153.01,387.34 L153.03,386.66 L153.04,385.95 L153.06,385.22 L153.07,384.47 L153.09,383.69 L153.10,382.89 L153.12,382.08 L153.13,381.24 L153.15,380.38 L153.16,379.51 L153.18,378.62 L153.19,377.71 L153.21,376.78 L153.23,375.84 L153.24,374.88 L153.26,373.91 L153.27,372.93 L153.29,371.93 L153.31,370.92 L153.32,369.90 L153.34,368.86 L153.36,367.82 L153.37,366.76 L153.39,365.70 L153.41,364.63 L153.42,363.55 L153.44,362.47 L153.46,361.38 L153.47,360.28 L153.49,359.17 L153.51,358.07 L153.52,356.96 L153.54,355.84 L153.56,354.73 L153.57,353.61 L153.59,352.49 L153.60,351.38 L153.62,350.26 L153.64,349.14 L153.65,348.03 L153.67,346.91 L153.68,345.80 L153.70,344.70 L153.71,343.60 L153.73,342.50 L153.75,341.41 L153.76,340.33 L153.77,339.25 L153.79,338.18 L153.80,337.12 L153.82,336.07 L153.83,335.03 L153.85,334.00 L153.86,332.98 L153.87,331.98 L153.89,330.98 L153.90,330.00 L153.91,328.98 L153.93,327.96 L153.94,326.95 L153.95,325.96 L153.97,324.96 L153.98,323.98 L153.99,323.00 L154.00,322.02 L154.01,321.05 L154.02,320.09 L154.04,319.13 L154.05,318.17 L154.06,317.22 L154.07,316.27 L154.08,315.32 L154.09,314.38 L154.10,313.44 L154.11,312.50 L154.12,311.56 L154.13,310.62 L154.14,309.68 L154.15,308.74 L154.16,307.81 L154.17,306.87 L154.18,305.92 L154.19,304.98 L154.20,304.04 L154.21,303.09 L154.22,302.14 L154.23,301.18 L154.24,300.23 L154.25,299.26 L154.26,298.30 L154.27,297.32 L154.28,296.35 L154.29,295.36 L154.30,294.37 L154.31,293.38 L154.32,292.37 L154.33,291.36 L154.34,290.34 L154.35,289.31 L154.36,288.28 L154.37,287.23 L154.38,286.18 L154.39,285.11 L154.40,284.04 L154.42,282.95 L154.43,281.85 L154.44,280.74 L154.45,279.62 L154.46,278.48 L154.47,277.34 L154.49,276.17 L154.50,275.40" fill="none" stroke="#0000ff" stroke-width="4.80" stroke-linejoin="round" stroke-linecap="butt" clip-path="url(#cb)"/>
<circle cx="154.50" cy="275.40" r="2.40" fill="#0000ff"/>
<path d="M160.31,275.40 L160.32,276.18 L160.35,277.35 L160.37,278.52 L160.39,279.69 L160.41,280.85 L160.44,282.00 L160.46,283.15 L160.48,284.29 L160.50,285.42 L160.52,286.56 L160.54,287.68 L160.56,288.80 L160.59,289.91 L160.61,291.02 L160.63,292.12 L160.65,293.21 L160.67,294.30 L160.69,295.38 L160.71,296.46 L160.73,297.52 L160.74,298.59 L160.76,299.64 L160.78,300.69 L160.80,301.73 L160.82,302.76 L160.84,303.79 L160.86,304.81 L160.88,305.82 L160.90,306.82 L160.92,307.82 L160.93,308.81 L160.95,309.79 L160.97,310.76 L160.99,311.73 L161.01,312.68 L161.03,313.63 L161.05,314.57 L161.07,315.50 L161.08,316.43 L161.10,317.34 L161.12,318.25 L161.14,319.15 L161.16,320.04 L161.18,320.92 L161.20,321.79 L161.22,322.65 L161.24,323.51 L161.26,324.35 L161.28,325.19 L161.30,326.01 L161.32,326.83 L161.34,327.64 L161.36,328.43 L161.38,329.22 L161.40,330.00 L161.44,331.39 L161.48,332.73 L161.52,334.02 L161.55,335.27 L161.59,336.47 L161.63,337.63 L161.67,338.76 L161.71,339.84 L161.75,340.90 L161.79,341.93 L161.83,342.92 L161.87,343.90 L161.91,344.85 L161.95,345.78 L161.99,346.69 L162.03,347.58 L162.07,348.47 L162.12,349.34 L162.16,350.21 L162.20,351.07 L162.24,351.93 L162.28,352.80 L162.32,353.66 L162.36,354.53 L162.40,355.41 L162.44,356.29 L162.48,357.19 L162.52,358.11 L162.56,359.04 L162.60,360.00 L162.64,361.04 L162.69,362.09 L162.73,363.16 L162.77,364.23 L162.81,365.30 L162.86,366.38 L162.90,367.47 L162.94,368.55 L162.99,369.64 L163.03,370.72 L163.07,371.80 L163.11,372.87 L163.16,373.94 L163.20,375.00 L163.24,376.05 L163.29,377.08 L163.33,378.11 L163.37,379.12 L163.41,380.11 L163.46,381.08 L163.50,382.03 L163.54,382.96 L163.59,383.87 L163.63,384.75 L163.67,385.61 L163.71,386.44 L163.76,387.23 L163.80,388.00 L163.89,389.44 L163.97,390.78 L164.06,392.01 L164.15,393.16 L164.23,394.23 L164.32,395.23 L164.41,396.18 L164.49,397.07 L164.58,397.93 L164.66,398.76 L164.75,399.57 L164.83,400.37 L164.92,401.18 L165.00,402.00 L165.12,403.22 L165.24,404.32 L165.35,405.33 L165.46,406.29 L165.58,407.21 L165.69,408.13 L165.82,409.09 L165.95,410.10 L166.10,411.20 L166.23,412.18 L166.37,413.23 L166.52,414.32 L166.67,415.45 L166.83,416.59 L166.99,417.72 L167.16,418.84 L167.32,419.92 L167.48,420.96 L167.64,421.92 L167.80,422.80 L168.08,424.22 L168.34,425.46 L168.61,426.57 L168.88,427.58 L169.18,428.54 L169.50,429.50 L169.93,430.61 L170.40,431.63 L170.89,432.58 L171.40,433.50 L171.90,434.40 L172.54,435.51 L173.19,436.57 L173.85,437.58 L174.50,438.50 L175.35,439.60 L176.20,440.56 L177.10,441.40 L178.07,442.13 L179.08,442.74 L180.10,443.20 L181.10,443.44 L182.10,443.54 L183.10,443.62 L184.10,443.73 L185.10,443.82 L186.09,443.89 L187.09,443.95 L188.09,443.99 L189.09,444.01 L190.59,444.02 L192.09,443.99 L193.09,443.96 L194.09,443.91 L195.09,443.84 L196.09,443.76 L197.09,443.67 L198.09,443.56 L199.09,443.44 L200.09,443.30 L201.09,443.16 L202.08,443.00 L203.08,442.83 L204.08,442.64 L205.08,442.45 L206.08,442.24 L207.08,442.02 L208.08,441.79 L209.08,441.55 L210.08,441.30 L211.08,441.04 L212.08,440.77 L213.08,440.48 L214.08,440.19 L215.08,439.89 L216.08,439.58 L217.08,439.26 L218.08,438.94 L219.07,438.60 L220.07,438.26 L221.07,437.91 L222.07,437.55 L223.07,437.18 L224.07,436.81 L225.07,436.43 L226.07,436.04 L227.07,435.65 L228.07,435.25 L229.07,434.85 L230.07,434.44 L231.07,434.02 L232.07,433.60 L233.07,433.17 L234.07,432.74 L235.06,432.31 L236.06,431.87 L237.06,431.42 L238.06,430.97 L239.06,430.52 L240.06,430.06 L241.06,429.60 L242.06,429.14 L243.06,428.67 L244.06,428.20 L245.06,427.72 L246.06,427.24 L247.06,426.76 L248.06,426.28 L249.06,425.79 L250.06,425.30 L251.05,424.81 L252.05,424.31 L253.05,423.81 L254.05,423.31 L255.05,422.81 L256.05,422.31 L257.05,421.80 L258.05,421.30 L259.05,420.79 L260.05,420.28 L261.05,419.77 L262.05,419.26 L263.05,418.74 L264.05,418.23 L265.05,417.71 L266.05,417.20 L267.05,416.68 L268.04,416.17 L269.04,415.65 L270.04,415.14 L271.04,414.62 L272.04,414.11 L273.04,413.59 L274.04,413.08 L275.04,412.57 L276.04,412.05 L277.04,411.54 L278.04,411.03 L279.04,410.52 L280.04,410.02 L281.04,409.51 L282.04,409.01 L283.04,408.50 L284.03,408.00 L285.03,407.51 L286.03,407.01 L287.03,406.52 L288.03,406.03 L289.03,405.54 L290.03,405.05 L291.03,404.57 L292.03,404.09 L293.03,403.61 L294.03,403.14 L295.03,402.67 L296.03,402.20 L297.03,401.74 L298.03,401.28 L299.03,400.83 L300.03,400.38 L301.02,399.93 L302.02,399.49 L303.02,399.05 L304.02,398.62 L305.02,398.19 L306.02,397.77 L307.02,397.35 L308.02,396.94 L309.02,396.53 L310.02,396.13 L311.02,395.73 L312.02,395.34 L313.02,394.96 L314.02,394.57 L315.02,394.20 L316.02,393.83 L317.01,393.46 L318.01,393.10 L319.01,392.75 L320.01,392.40 L321.01,392.06 L322.01,391.72 L323.01,391.39 L324.01,391.07 L325.01,390.75 L326.01,390.44 L327.01,390.13 L328.01,389.83 L329.01,389.53 L330.01,389.24 L331.01,388.96 L332.01,388.68 L333.01,388.41 L334.00,388.15 L335.00,387.89 L336.00,387.64 L337.00,387.39 L338.00,387.15 L339.00,386.92 L340.00,386.69 L341.00,386.47 L342.00,386.26 L343.00,386.06 L344.00,385.86 L345.00,385.66 L346.00,385.48 L347.00,385.30 L348.00,385.13 L349.00,384.96 L349.99,384.81 L350.99,384.65 L351.99,384.51 L352.99,384.37 L353.99,384.25 L354.99,384.12 L355.99,384.01 L356.99,383.90 L357.99,383.80 L358.99,383.71 L359.99,383.62 L360.99,383.54 L361.99,383.47 L362.99,383.41 L363.99,383.36 L364.99,383.31 L365.98,383.27 L367.48,383.23 L368.98,383.20 L370.48,383.19 L371.98,383.20 L373.48,383.23 L374.98,383.27 L375.98,383.31 L376.98,383.36 L377.98,383.42 L378.98,383.48 L379.98,383.56 L380.98,383.64 L381.98,383.73 L382.97,383.83 L383.97,383.94 L384.97,384.05 L385.97,384.18 L386.97,384.31 L387.97,384.46 L388.97,384.61 L389.97,384.77 L390.97,384.94 L391.97,385.12 L392.97,385.30 L393.97,385.50 L394.97,385.70 L395.97,385.92 L396.97,386.14 L397.97,386.37 L398.96,386.62 L399.96,386.87 L400.96,387.12 L401.96,387.39 L402.96,387.67 L403.96,387.95 L404.96,388.24 L405.96,388.54 L406.96,388.85 L407.96,389.17 L408.96,389.49 L409.96,389.83 L410.96,390.17 L411.96,390.51 L412.96,390.87 L413.96,391.23 L414.96,391.60 L415.95,391.98 L416.95,392.36 L417.95,392.75 L418.95,393.15 L419.95,393.55 L420.95,393.96 L421.95,394.38 L422.95,394.81 L423.95,395.24 L424.95,395.67 L425.95,396.12 L426.95,396.57 L427.95,397.02 L428.95,397.48 L429.95,397.95 L430.95,398.42 L431.94,398.90 L432.94,399.39 L433.94,399.88 L434.94,400.37 L435.94,400.87 L436.94,401.37 L437.94,401.88 L438.94,402.40 L439.94,402.92 L440.94,403.44 L441.94,403.97 L442.94,404.51 L443.94,405.05 L444.94,405.59 L445.94,406.14 L446.94,406.69 L447.94,407.24 L448.93,407.80 L449.93,408.36 L450.93,408.93 L451.93,409.50 L452.93,410.08 L453.93,410.65 L454.93,411.23 L455.93,411.82 L456.93,412.40 L457.93,413.00 L458.93,413.59 L459.93,414.18 L460.93,414.78 L461.93,415.39 L462.93,415.99 L463.93,416.60 L464.92,417.21 L465.92,417.82 L466.92,418.43 L467.92,419.05 L468.92,419.66 L469.92,420.28 L470.92,420.90 L471.92,421.52 L472.92,422.15 L473.92,422.77 L474.92,423.40 L475.92,424.02 L476.92,424.65 L477.92,425.28 L478.92,425.91 L479.92,426.53 L480.91,427.16 L481.91,427.79 L482.91,428.42 L483.91,429.05 L484.91,429.68 L485.91,430.30 L486.91,430.93 L487.91,431.56 L488.91,432.18 L489.91,432.81 L490.91,433.43 L491.91,434.05 L492.91,434.67 L493.91,435.29 L494.91,435.91 L495.91,436.53 L496.91,437.14 L497.90,437.75 L498.90,438.36 L499.90,438.97 L500.90,439.58 L501.90,440.18 L502.90,440.78 L503.90,441.37 L504.90,441.97 L505.90,442.56 L506.90,443.15 L507.90,443.73 L508.90,444.31 L509.90,444.89 L510.90,445.46 L511.90,446.03 L512.90,446.60 L513.89,447.16 L514.89,447.72 L515.89,448.27 L516.89,448.82 L517.89,449.36 L518.89,449.90 L519.89,450.43 L520.89,450.96 L521.89,451.49 L522.89,452.00 L523.89,452.52 L524.89,453.02 L525.89,453.53 L526.89,454.02 L527.89,454.51 L528.89,454.99 L529.89,455.47 L530.88,455.94 L531.88,456.41 L532.88,456.86 L533.88,457.31 L534.88,457.76 L535.88,458.19 L536.88,458.62 L537.88,459.05 L538.88,459.46 L539.88,459.87 L540.88,460.27 L541.88,460.66 L542.88,461.04 L543.88,461.42 L544.88,461.78 L545.88,462.14 L546.87,462.49 L547.87,462.84 L548.87,463.17 L549.87,463.49 L550.87,463.81 L551.87,464.11 L552.87,464.41 L553.87,464.70 L554.87,464.98 L555.87,465.25 L556.87,465.51 L557.87,465.76 L558.87,466.00 L559.87,466.24 L560.87,466.46 L561.87,466.68 L562.86,466.89 L563.86,467.09 L564.86,467.28 L565.86,467.46 L566.86,467.64 L567.86,467.80 L568.86,467.96 L569.86,468.11 L570.86,468.25 L571.86,468.38 L572.86,468.51 L573.86,468.62 L574.86,468.73 L575.86,468.83 L576.86,468.92 L577.86,469.00 L578.86,469.07 L579.85,469.14 L580.85,469.20 L581.85,469.25 L583.35,469.31 L584.85,469.35 L586.35,469.38 L587.85,469.38 L589.35,469.37 L590.85,469.34 L591.85,469.31 L592.85,469.28 L593.85,469.23 L594.85,469.18 L595.84,469.12 L596.84,469.06 L597.84,468.98 L598.84,468.90 L599.84,468.81 L600.84,468.72 L601.84,468.61 L602.84,468.50 L603.84,468.38 L604.84,468.26 L605.84,468.12 L606.84,467.98 L607.84,467.83 L608.84,467.68 L609.84,467.52 L610.84,467.35 L611.84,467.17 L612.83,466.99 L613.83,466.80 L614.83,466.60 L615.83,466.40 L616.83,466.19 L617.83,465.97 L618.83,465.75 L619.83,465.52 L620.83,465.28 L621.83,465.03 L622.83,464.78 L623.83,464.52 L624.83,464.26 L625.83,463.99 L626.83,463.71 L627.83,463.43 L628.82,463.14 L629.82,462.84 L630.82,462.53 L631.82,462.22 L632.82,461.91 L633.82,461.59 L634.82,461.26 L635.82,460.92 L636.82,460.58 L637.82,460.23 L638.82,459.88 L639.82,459.52 L640.82,459.15 L641.82,458.78 L642.82,458.40 L643.82,458.02 L644.82,457.63 L645.81,457.23 L646.81,456.83 L647.81,456.43 L648.81,456.01 L649.81,455.60 L650.81,455.18 L651.81,454.75 L652.81,454.32 L653.81,453.88 L654.81,453.44 L655.81,452.99 L656.81,452.54 L657.81,452.09 L658.81,451.63 L659.81,451.17 L660.81,450.70 L661.80,450.23 L662.80,449.75 L663.80,449.27 L664.80,448.79 L665.80,448.31 L666.80,447.82 L667.80,447.32 L668.80,446.83 L669.80,446.33 L670.80,445.82 L671.80,445.32 L672.80,444.81 L673.80,444.30 L674.80,443.78 L675.80,443.27 L676.80,442.75 L677.79,442.22 L678.79,441.70 L679.79,441.17 L680.79,440.65 L681.79,440.12 L682.79,439.58 L683.79,439.05 L684.79,438.51 L685.79,437.98 L686.79,437.44 L687.79,436.90 L688.79,436.36 L689.79,435.81 L690.79,435.27 L691.79,434.72 L692.79,434.18 L693.79,433.63 L694.78,433.08 L695.78,432.54 L696.78,431.99 L697.78,431.44 L698.78,430.89 L699.78,430.34 L700.78,429.79 L701.78,429.24 L702.78,428.69 L703.78,428.14 L704.78,427.59 L705.78,427.05 L706.78,426.50 L707.78,425.95 L708.78,425.40 L709.78,424.86 L710.77,424.31 L711.77,423.77 L712.77,423.23 L713.77,422.69 L714.77,422.14 L715.77,421.61 L716.77,421.07 L717.77,420.53 L718.77,420.00 L719.77,419.47 L720.77,418.94 L721.77,418.41 L722.77,417.88 L723.77,417.36 L724.77,416.84 L725.77,416.32 L726.77,415.80 L727.76,415.28 L728.76,414.77 L729.76,414.26 L730.76,413.76 L731.76,413.26 L732.76,412.76 L733.76,412.26 L734.76,411.77 L735.76,411.28 L736.76,410.79 L737.76,410.31 L738.76,409.83 L739.76,409.35 L740.76,408.88 L741.76,408.41 L742.76,407.95 L743.75,407.49 L744.75,407.04 L745.75,406.59 L746.75,406.14 L747.75,405.70 L748.75,405.26 L749.75,404.83 L750.75,404.40 L751.75,403.98 L752.75,403.57 L753.75,403.16 L754.75,402.75 L755.75,402.35 L756.75,401.95 L757.75,401.56 L758.75,401.18 L759.75,400.80 L760.74,400.43 L761.74,400.06 L762.74,399.70 L763.74,399.34 L764.74,398.99 L765.74,398.64 L766.74,398.30 L767.74,397.96 L768.74,397.63 L769.74,397.31 L770.74,396.99 L771.74,396.68 L772.74,396.37 L773.74,396.07 L774.74,395.77 L775.74,395.48 L776.73,395.20 L777.73,394.92 L778.73,394.64 L779.73,394.37 L780.73,394.11 L781.73,393.85 L782.73,393.60 L783.73,393.35 L784.73,393.11 L785.73,392.87 L786.73,392.64 L787.73,392.42 L788.73,392.20 L789.73,391.99 L790.73,391.78 L791.73,391.58 L792.72,391.38 L793.72,391.19 L794.72,391.00 L795.72,390.83 L796.72,390.65 L797.72,390.48 L798.72,390.32 L799.72,390.16 L800.72,390.01 L801.72,389.87 L802.72,389.73 L803.72,389.59 L804.72,389.46 L805.72,389.34 L806.72,389.22 L807.72,389.11 L808.72,389.00 L809.71,388.90 L810.71,388.81 L811.71,388.72 L812.71,388.63 L813.71,388.56 L814.71,388.48 L815.71,388.42 L816.71,388.36 L817.71,388.30 L818.71,388.25 L819.71,388.21 L820.71,388.17 L821.71,388.14 L823.21,388.10 L824.71,388.08 L826.20,388.07 L827.70,388.07 L829.20,388.08 L830.70,388.11 L832.39,388.16 L833.70,388.21" fill="none" stroke="#0000ff" stroke-width="4.80" stroke-linejoin="round" stroke-linecap="butt" clip-path="url(#cb)"/>
<circle cx="160.31" cy="275.40" r="2.40" fill="#0000ff"/>
<circle cx="833.70" cy="388.21" r="2.40" fill="#0000ff" clip-path="url(#cb)"/>
<path d="M139.80,736.00 C140.05,735.91 140.80,735.67 141.30,735.50 C141.80,735.33 142.30,735.16 142.80,734.99 C143.30,734.82 143.80,734.64 144.30,734.47 C144.80,734.29 145.30,734.11 145.80,733.92 C146.30,733.74 146.80,733.55 147.30,733.37 C147.80,733.18 148.30,732.98 148.80,732.79 C149.30,732.59 149.80,732.39 150.30,732.19 C150.80,731.99 151.30,731.78 151.80,731.57 C152.30,731.36 152.80,731.15 153.30,730.94 C153.80,730.72 154.30,730.50 154.80,730.28 C155.30,730.05 155.80,729.82 156.30,729.59 C156.80,729.36 157.30,729.13 157.80,728.88 C158.30,728.64 158.80,728.40 159.30,728.15 C159.80,727.90 160.30,727.65 160.80,727.39 C161.30,727.13 161.80,726.87 162.30,726.60 C162.80,726.34 163.30,726.06 163.80,725.79 C164.30,725.51 164.80,725.22 165.30,724.94 C165.80,724.65 166.30,724.35 166.80,724.05 C167.30,723.75 167.80,723.45 168.30,723.14 C168.80,722.82 169.30,722.51 169.80,722.18 C170.30,721.86 170.80,721.53 171.30,721.19 C171.80,720.85 172.30,720.51 172.80,720.15 C173.30,719.80 173.80,719.44 174.30,719.08 C174.80,718.71 175.30,718.33 175.80,717.95 C176.30,717.57 176.80,717.18 177.30,716.78 C177.80,716.38 178.30,715.97 178.80,715.56 C179.30,715.14 179.80,714.72 180.30,714.28 C180.80,713.85 181.30,713.40 181.80,712.95 C182.30,712.49 182.80,712.03 183.30,711.55 C183.80,711.08 184.30,710.59 184.80,710.09 C185.30,709.60 185.80,709.09 186.30,708.57 C186.80,708.05 187.30,707.52 187.80,706.97 C188.30,706.43 188.80,705.87 189.30,705.30 C189.80,704.73 190.30,704.15 190.80,703.55 C191.30,702.95 191.80,702.34 192.30,701.71 C192.80,701.09 193.30,700.45 193.80,699.79 C194.30,699.14 194.80,698.47 195.30,697.78 C195.80,697.10 196.30,696.39 196.80,695.68 C197.30,694.96 197.80,694.22 198.30,693.47 C198.80,692.72 199.30,691.96 199.80,691.17 C200.30,690.39 200.80,689.58 201.30,688.76 C201.80,687.95 202.30,687.11 202.80,686.26 C203.30,685.40 203.80,684.53 204.30,683.65 C204.80,682.76 205.30,681.86 205.80,680.94 C206.30,680.02 206.80,679.08 207.30,678.13 C207.80,677.18 208.30,676.22 208.80,675.24 C209.30,674.27 209.80,673.28 210.30,672.28 C210.80,671.28 211.30,670.27 211.80,669.26 C212.30,668.25 212.80,667.22 213.30,666.20 C213.80,665.19 214.30,664.16 214.80,663.15 C215.30,662.13 215.80,661.11 216.30,660.12 C216.80,659.12 217.30,658.13 217.80,657.17 C218.30,656.20 218.80,655.25 219.30,654.34 C219.80,653.43 220.30,652.54 220.80,651.70 C221.30,650.86 221.80,650.04 222.30,649.30 C222.80,648.55 223.30,647.84 223.80,647.20 C224.30,646.57 224.80,645.98 225.30,645.48 C225.80,644.98 226.30,644.54 226.80,644.18 C227.30,643.83 227.80,643.55 228.30,643.36 C228.80,643.16 229.30,643.05 229.80,643.03 C230.30,643.01 230.80,643.07 231.30,643.22 C231.80,643.37 232.30,643.60 232.80,643.92 C233.30,644.23 233.80,644.64 234.30,645.10 C234.80,645.57 235.30,646.13 235.80,646.74 C236.30,647.35 236.80,648.03 237.30,648.77 C237.80,649.50 238.30,650.29 238.80,651.13 C239.30,651.96 239.80,652.85 240.30,653.76 C240.80,654.67 241.30,655.63 241.80,656.60 C242.30,657.57 242.80,658.58 243.30,659.59 C243.80,660.60 244.30,661.63 244.80,662.67 C245.30,663.70 245.80,664.75 246.30,665.80 C246.80,666.84 247.30,667.89 247.80,668.93 C248.30,669.97 248.80,671.01 249.30,672.04 C249.80,673.07 250.30,674.09 250.80,675.10 C251.30,676.11 251.80,677.10 252.30,678.09 C252.80,679.07 253.30,680.04 253.80,680.99 C254.30,681.94 254.80,682.88 255.30,683.80 C255.80,684.71 256.30,685.62 256.80,686.50 C257.30,687.39 257.80,688.25 258.30,689.10 C258.80,689.95 259.30,690.78 259.80,691.60 C260.30,692.41 260.80,693.21 261.30,693.99 C261.80,694.77 262.30,695.53 262.80,696.27 C263.30,697.02 263.80,697.75 264.30,698.46 C264.80,699.17 265.30,699.86 265.80,700.54 C266.30,701.22 266.80,701.88 267.30,702.53 C267.80,703.18 268.30,703.81 268.80,704.43 C269.30,705.05 269.80,705.65 270.30,706.25 C270.80,706.84 271.30,707.41 271.80,707.98 C272.30,708.54 272.80,709.09 273.30,709.63 C273.80,710.17 274.30,710.69 274.80,711.21 C275.30,711.72 275.80,712.22 276.30,712.71 C276.80,713.20 277.30,713.68 277.80,714.15 C278.30,714.62 278.80,715.08 279.30,715.53 C279.80,715.98 280.30,716.42 280.80,716.85 C281.30,717.28 281.80,717.70 282.30,718.11 C282.80,718.52 283.30,718.92 283.80,719.32 C284.30,719.71 284.80,720.10 285.30,720.48 C285.80,720.85 286.30,721.22 286.80,721.59 C287.30,721.95 287.80,722.30 288.30,722.65 C288.80,723.00 289.30,723.34 289.80,723.67 C290.30,724.01 290.80,724.33 291.30,724.65 C291.80,724.97 292.30,725.29 292.80,725.60 C293.30,725.91 293.80,726.21 294.30,726.50 C294.80,726.80 295.30,727.09 295.80,727.38 C296.30,727.66 296.80,727.94 297.30,728.22 C297.80,728.49 298.30,728.76 298.80,729.03 C299.30,729.29 299.80,729.55 300.30,729.80 C300.80,730.06 301.30,730.31 301.80,730.56 C302.30,730.80 302.80,731.04 303.30,731.28 C303.80,731.52 304.30,731.75 304.80,731.98 C305.30,732.21 305.80,732.44 306.30,732.66 C306.80,732.88 307.30,733.10 307.80,733.31 C308.30,733.52 308.80,733.73 309.30,733.94 C309.80,734.15 310.30,734.35 310.80,734.55 C311.30,734.75 311.80,734.95 312.30,735.14 C312.80,735.34 313.30,735.53 313.80,735.72 C314.30,735.90 314.80,736.09 315.30,736.27 C315.80,736.45 316.30,736.63 316.80,736.81 C317.30,736.98 317.80,737.16 318.30,737.33 C318.80,737.50 319.30,737.66 319.80,737.83 C320.30,738.00 320.80,738.16 321.30,738.32 C321.80,738.48 322.30,738.64 322.80,738.79 C323.30,738.95 323.80,739.10 324.30,739.26 C324.80,739.41 325.30,739.56 325.80,739.70 C326.30,739.85 326.80,740.00 327.30,740.14 C327.80,740.28 328.30,740.42 328.80,740.56 C329.30,740.70 329.80,740.84 330.30,740.97 C330.80,741.11 331.30,741.24 331.80,741.37 C332.30,741.50 332.80,741.63 333.30,741.76 C333.80,741.89 334.30,742.02 334.80,742.14 C335.30,742.27 335.80,742.39 336.30,742.51 C336.80,742.63 337.30,742.75 337.80,742.87 C338.30,742.99 338.80,743.10 339.30,743.22 C339.80,743.33 340.30,743.45 340.80,743.56 C341.30,743.67 341.80,743.78 342.30,743.89 C342.80,744.00 343.30,744.11 343.80,744.22 C344.30,744.32 344.80,744.43 345.30,744.53 C345.80,744.64 346.30,744.74 346.80,744.84 C347.30,744.94 347.80,745.05 348.30,745.14 C348.80,745.24 349.30,745.34 349.80,745.44 C350.30,745.54 350.80,745.63 351.30,745.73 C351.80,745.82 352.30,745.91 352.80,746.01 C353.30,746.10 353.80,746.19 354.30,746.28 C354.80,746.37 355.30,746.46 355.80,746.55 C356.30,746.64 356.80,746.72 357.30,746.81 C357.80,746.90 358.30,746.98 358.80,747.07 C359.30,747.15 359.80,747.23 360.30,747.32 C360.80,747.40 361.30,747.48 361.80,747.56 C362.30,747.64 362.80,747.72 363.30,747.80 C363.80,747.88 364.30,747.96 364.80,748.04 C365.30,748.11 365.80,748.19 366.30,748.27 C366.80,748.34 367.43,748.44 367.80,748.49 C368.17,748.55 368.38,748.58 368.50,748.60" fill="none" stroke="#0000ff" stroke-width="4.80" stroke-linejoin="round" stroke-linecap="round" clip-path="url(#cc)"/>
<path d="M139.80,768.40 C177.92,768.40 330.38,768.40 368.50,768.40" fill="none" stroke="#ff0000" stroke-width="4.80" stroke-linejoin="round" stroke-linecap="round" clip-path="url(#cc)"/>
<path d="M374.30,759.16 C374.55,759.15 375.30,759.10 375.80,759.06 C376.30,759.03 376.80,758.99 377.30,758.96 C377.80,758.92 378.30,758.88 378.80,758.85 C379.30,758.81 379.80,758.78 380.30,758.74 C380.80,758.70 381.30,758.67 381.80,758.63 C382.30,758.59 382.80,758.55 383.30,758.51 C383.80,758.47 384.30,758.44 384.80,758.40 C385.30,758.36 385.80,758.32 386.30,758.28 C386.80,758.24 387.30,758.20 387.80,758.15 C388.30,758.11 388.80,758.07 389.30,758.03 C389.80,757.99 390.30,757.94 390.80,757.90 C391.30,757.86 391.80,757.81 392.30,757.77 C392.80,757.73 393.30,757.68 393.80,757.64 C394.30,757.59 394.80,757.54 395.30,757.50 C395.80,757.45 396.30,757.40 396.80,757.36 C397.30,757.31 397.80,757.26 398.30,757.21 C398.80,757.16 399.30,757.11 399.80,757.06 C400.30,757.01 400.80,756.96 401.30,756.91 C401.80,756.86 402.30,756.81 402.80,756.76 C403.30,756.71 403.80,756.65 404.30,756.60 C404.80,756.54 405.30,756.49 405.80,756.43 C406.30,756.38 406.80,756.32 407.30,756.27 C407.80,756.21 408.30,756.15 408.80,756.09 C409.30,756.03 409.80,755.98 410.30,755.92 C410.80,755.86 411.30,755.79 411.80,755.73 C412.30,755.67 412.80,755.61 413.30,755.55 C413.80,755.48 414.30,755.42 414.80,755.35 C415.30,755.29 415.80,755.22 416.30,755.15 C416.80,755.09 417.30,755.02 417.80,754.95 C418.30,754.88 418.80,754.81 419.30,754.74 C419.80,754.67 420.30,754.60 420.80,754.52 C421.30,754.45 421.80,754.38 422.30,754.30 C422.80,754.22 423.30,754.15 423.80,754.07 C424.30,753.99 424.80,753.91 425.30,753.83 C425.80,753.75 426.30,753.67 426.80,753.59 C427.30,753.50 427.80,753.42 428.30,753.33 C428.80,753.25 429.30,753.16 429.80,753.07 C430.30,752.99 430.80,752.90 431.30,752.80 C431.80,752.71 432.30,752.62 432.80,752.52 C433.30,752.43 433.80,752.33 434.30,752.24 C434.80,752.14 435.30,752.04 435.80,751.94 C436.30,751.84 436.80,751.73 437.30,751.63 C437.80,751.52 438.30,751.42 438.80,751.31 C439.30,751.20 439.80,751.09 440.30,750.97 C440.80,750.86 441.30,750.75 441.80,750.63 C442.30,750.51 442.80,750.39 443.30,750.27 C443.80,750.15 444.30,750.02 444.80,749.90 C445.30,749.77 445.80,749.64 446.30,749.51 C446.80,749.38 447.30,749.25 447.80,749.11 C448.30,748.97 448.80,748.83 449.30,748.69 C449.80,748.55 450.30,748.40 450.80,748.25 C451.30,748.10 451.80,747.95 452.30,747.80 C452.80,747.64 453.30,747.48 453.80,747.32 C454.30,747.16 454.80,747.00 455.30,746.83 C455.80,746.66 456.30,746.48 456.80,746.31 C457.30,746.13 457.80,745.95 458.30,745.77 C458.80,745.58 459.30,745.39 459.80,745.20 C460.30,745.00 460.80,744.81 461.30,744.60 C461.80,744.40 462.30,744.19 462.80,743.98 C463.30,743.77 463.80,743.55 464.30,743.32 C464.80,743.10 465.30,742.87 465.80,742.64 C466.30,742.40 466.80,742.16 467.30,741.91 C467.80,741.66 468.30,741.41 468.80,741.15 C469.30,740.89 469.80,740.62 470.30,740.34 C470.80,740.07 471.30,739.79 471.80,739.49 C472.30,739.20 472.80,738.91 473.30,738.60 C473.80,738.29 474.30,737.97 474.80,737.65 C475.30,737.32 475.80,736.99 476.30,736.64 C476.80,736.30 477.30,735.94 477.80,735.58 C478.30,735.21 478.80,734.83 479.30,734.44 C479.80,734.05 480.30,733.65 480.80,733.24 C481.30,732.82 481.80,732.39 482.30,731.95 C482.80,731.51 483.30,731.05 483.80,730.58 C484.30,730.10 484.80,729.61 485.30,729.11 C485.80,728.60 486.30,728.07 486.80,727.53 C487.30,726.98 487.80,726.42 488.30,725.83 C488.80,725.24 489.30,724.63 489.80,723.99 C490.30,723.36 490.80,722.70 491.30,722.01 C491.80,721.33 492.30,720.61 492.80,719.87 C493.30,719.12 493.80,718.35 494.30,717.55 C494.80,716.74 495.30,715.90 495.80,715.03 C496.30,714.16 496.80,713.26 497.30,712.32 C497.80,711.38 498.30,710.41 498.80,709.41 C499.30,708.41 499.80,707.37 500.30,706.31 C500.80,705.25 501.30,704.15 501.80,703.04 C502.30,701.93 502.80,700.79 503.30,699.64 C503.80,698.50 504.30,697.33 504.80,696.18 C505.30,695.03 505.80,693.87 506.30,692.75 C506.80,691.62 507.30,690.50 507.80,689.44 C508.30,688.38 508.80,687.34 509.30,686.39 C509.80,685.44 510.30,684.54 510.80,683.75 C511.30,682.96 511.80,682.24 512.30,681.66 C512.80,681.07 513.30,680.58 513.80,680.24 C514.30,679.89 514.80,679.67 515.30,679.59 C515.80,679.51 516.30,679.57 516.80,679.76 C517.30,679.96 517.80,680.29 518.30,680.74 C518.80,681.20 519.30,681.79 519.80,682.47 C520.30,683.15 520.80,683.97 521.30,684.84 C521.80,685.71 522.30,686.69 522.80,687.70 C523.30,688.72 523.80,689.81 524.30,690.92 C524.80,692.03 525.30,693.20 525.80,694.36 C526.30,695.52 526.80,696.71 527.30,697.88 C527.80,699.05 528.30,700.23 528.80,701.39 C529.30,702.54 529.80,703.69 530.30,704.80 C530.80,705.92 531.30,707.01 531.80,708.07 C532.30,709.13 532.80,710.16 533.30,711.16 C533.80,712.15 534.30,713.12 534.80,714.05 C535.30,714.97 535.80,715.87 536.30,716.73 C536.80,717.59 537.30,718.42 537.80,719.22 C538.30,720.01 538.80,720.78 539.30,721.51 C539.80,722.25 540.30,722.95 540.80,723.63 C541.30,724.31 541.80,724.96 542.30,725.59 C542.80,726.22 543.30,726.82 543.80,727.41 C544.30,727.99 544.80,728.55 545.30,729.09 C545.80,729.63 546.30,730.15 546.80,730.66 C547.30,731.16 547.80,731.65 548.30,732.12 C548.80,732.59 549.30,733.04 549.80,733.48 C550.30,733.92 550.80,734.34 551.30,734.76 C551.80,735.17 552.30,735.57 552.80,735.96 C553.30,736.34 553.80,736.72 554.30,737.08 C554.80,737.45 555.30,737.80 555.80,738.14 C556.30,738.49 556.80,738.82 557.30,739.14 C557.80,739.47 558.30,739.78 558.80,740.09 C559.30,740.39 559.80,740.69 560.30,740.98 C560.80,741.27 561.30,741.55 561.80,741.82 C562.30,742.10 562.80,742.36 563.30,742.62 C563.80,742.88 564.30,743.13 564.80,743.38 C565.30,743.63 565.80,743.87 566.30,744.10 C566.80,744.33 567.30,744.56 567.80,744.79 C568.30,745.01 568.80,745.22 569.30,745.44 C569.80,745.65 570.30,745.86 570.80,746.06 C571.30,746.26 571.80,746.46 572.30,746.65 C572.80,746.84 573.30,747.03 573.80,747.21 C574.30,747.40 574.80,747.58 575.30,747.75 C575.80,747.93 576.30,748.10 576.80,748.27 C577.30,748.44 577.80,748.60 578.30,748.76 C578.80,748.92 579.30,749.08 579.80,749.24 C580.30,749.39 580.80,749.54 581.30,749.69 C581.80,749.84 582.30,749.98 582.80,750.12 C583.30,750.27 583.80,750.40 584.30,750.54 C584.80,750.68 585.30,750.81 585.80,750.94 C586.30,751.07 586.80,751.20 587.30,751.33 C587.80,751.45 588.30,751.58 588.80,751.70 C589.30,751.82 589.80,751.94 590.30,752.05 C590.80,752.17 591.30,752.29 591.80,752.40 C592.30,752.51 592.80,752.62 593.30,752.73 C593.80,752.84 594.30,752.94 594.80,753.05 C595.30,753.15 595.80,753.26 596.30,753.36 C596.80,753.46 597.30,753.56 597.80,753.65 C598.30,753.75 598.80,753.85 599.30,753.94 C599.80,754.04 600.30,754.13 600.80,754.22 C601.30,754.31 601.95,754.43 602.30,754.49 C602.65,754.55 602.80,754.58 602.90,754.59" fill="none" stroke="#ff0000" stroke-width="4.80" stroke-linejoin="round" stroke-linecap="round" clip-path="url(#cd)"/>
<path d="M374.30,757.96 C374.55,757.95 375.30,757.90 375.80,757.86 C376.30,757.83 376.80,757.79 377.30,757.76 C377.80,757.72 378.30,757.68 378.80,757.65 C379.30,757.61 379.80,757.58 380.30,757.54 C380.80,757.50 381.30,757.47 381.80,757.43 C382.30,757.39 382.80,757.35 383.30,757.31 C383.80,757.27 384.30,757.24 384.80,757.20 C385.30,757.16 385.80,757.12 386.30,757.08 C386.80,757.04 387.30,757.00 387.80,756.95 C388.30,756.91 388.80,756.87 389.30,756.83 C389.80,756.79 390.30,756.74 390.80,756.70 C391.30,756.66 391.80,756.61 392.30,756.57 C392.80,756.53 393.30,756.48 393.80,756.44 C394.30,756.39 394.80,756.34 395.30,756.30 C395.80,756.25 396.30,756.20 396.80,756.16 C397.30,756.11 397.80,756.06 398.30,756.01 C398.80,755.96 399.30,755.91 399.80,755.86 C400.30,755.81 400.80,755.76 401.30,755.71 C401.80,755.66 402.30,755.61 402.80,755.56 C403.30,755.51 403.80,755.45 404.30,755.40 C404.80,755.34 405.30,755.29 405.80,755.23 C406.30,755.18 406.80,755.12 407.30,755.07 C407.80,755.01 408.30,754.95 408.80,754.89 C409.30,754.83 409.80,754.78 410.30,754.72 C410.80,754.66 411.30,754.59 411.80,754.53 C412.30,754.47 412.80,754.41 413.30,754.35 C413.80,754.28 414.30,754.22 414.80,754.15 C415.30,754.09 415.80,754.02 416.30,753.95 C416.80,753.89 417.30,753.82 417.80,753.75 C418.30,753.68 418.80,753.61 419.30,753.54 C419.80,753.47 420.30,753.40 420.80,753.32 C421.30,753.25 421.80,753.18 422.30,753.10 C422.80,753.02 423.30,752.95 423.80,752.87 C424.30,752.79 424.80,752.71 425.30,752.63 C425.80,752.55 426.30,752.47 426.80,752.39 C427.30,752.30 427.80,752.22 428.30,752.13 C428.80,752.05 429.30,751.96 429.80,751.87 C430.30,751.79 430.80,751.70 431.30,751.60 C431.80,751.51 432.30,751.42 432.80,751.32 C433.30,751.23 433.80,751.13 434.30,751.04 C434.80,750.94 435.30,750.84 435.80,750.74 C436.30,750.64 436.80,750.53 437.30,750.43 C437.80,750.32 438.30,750.22 438.80,750.11 C439.30,750.00 439.80,749.89 440.30,749.77 C440.80,749.66 441.30,749.55 441.80,749.43 C442.30,749.31 442.80,749.19 443.30,749.07 C443.80,748.95 444.30,748.82 444.80,748.70 C445.30,748.57 445.80,748.44 446.30,748.31 C446.80,748.18 447.30,748.05 447.80,747.91 C448.30,747.77 448.80,747.63 449.30,747.49 C449.80,747.35 450.30,747.20 450.80,747.05 C451.30,746.90 451.80,746.75 452.30,746.60 C452.80,746.44 453.30,746.28 453.80,746.12 C454.30,745.96 454.80,745.80 455.30,745.63 C455.80,745.46 456.30,745.28 456.80,745.11 C457.30,744.93 457.80,744.75 458.30,744.57 C458.80,744.38 459.30,744.19 459.80,744.00 C460.30,743.80 460.80,743.61 461.30,743.40 C461.80,743.20 462.30,742.99 462.80,742.78 C463.30,742.57 463.80,742.35 464.30,742.12 C464.80,741.90 465.30,741.67 465.80,741.44 C466.30,741.20 466.80,740.96 467.30,740.71 C467.80,740.46 468.30,740.21 468.80,739.95 C469.30,739.69 469.80,739.42 470.30,739.14 C470.80,738.87 471.30,738.59 471.80,738.30 C472.30,738.00 472.80,737.71 473.30,737.40 C473.80,737.09 474.30,736.78 474.80,736.45 C475.30,736.12 475.80,735.79 476.30,735.45 C476.80,735.10 477.30,734.75 477.80,734.38 C478.30,734.02 478.80,733.64 479.30,733.25 C479.80,732.86 480.30,732.46 480.80,732.05 C481.30,731.64 481.80,731.22 482.30,730.78 C482.80,730.34 483.30,729.89 483.80,729.42 C484.30,728.95 484.80,728.47 485.30,727.97 C485.80,727.47 486.30,726.96 486.80,726.43 C487.30,725.90 487.80,725.35 488.30,724.79 C488.80,724.22 489.30,723.64 489.80,723.04 C490.30,722.43 490.80,721.81 491.30,721.17 C491.80,720.52 492.30,719.86 492.80,719.18 C493.30,718.49 493.80,717.79 494.30,717.06 C494.80,716.33 495.30,715.58 495.80,714.81 C496.30,714.04 496.80,713.25 497.30,712.44 C497.80,711.62 498.30,710.79 498.80,709.93 C499.30,709.08 499.80,708.20 500.30,707.31 C500.80,706.43 501.30,705.52 501.80,704.60 C502.30,703.68 502.80,702.75 503.30,701.82 C503.80,700.89 504.30,699.95 504.80,699.02 C505.30,698.09 505.80,697.16 506.30,696.26 C506.80,695.36 507.30,694.46 507.80,693.62 C508.30,692.78 508.80,691.95 509.30,691.20 C509.80,690.44 510.30,689.72 510.80,689.10 C511.30,688.47 511.80,687.90 512.30,687.43 C512.80,686.97 513.30,686.58 513.80,686.30 C514.30,686.03 514.80,685.85 515.30,685.78 C515.80,685.72 516.30,685.77 516.80,685.92 C517.30,686.07 517.80,686.34 518.30,686.69 C518.80,687.05 519.30,687.52 519.80,688.06 C520.30,688.61 520.80,689.25 521.30,689.94 C521.80,690.64 522.30,691.42 522.80,692.22 C523.30,693.03 523.80,693.91 524.30,694.80 C524.80,695.69 525.30,696.62 525.80,697.55 C526.30,698.49 526.80,699.45 527.30,700.40 C527.80,701.36 528.30,702.32 528.80,703.27 C529.30,704.22 529.80,705.17 530.30,706.10 C530.80,707.02 531.30,707.94 531.80,708.84 C532.30,709.74 532.80,710.62 533.30,711.48 C533.80,712.34 534.30,713.18 534.80,714.00 C535.30,714.81 535.80,715.61 536.30,716.38 C536.80,717.15 537.30,717.90 537.80,718.63 C538.30,719.36 538.80,720.06 539.30,720.74 C539.80,721.43 540.30,722.09 540.80,722.73 C541.30,723.37 541.80,723.99 542.30,724.59 C542.80,725.19 543.30,725.77 543.80,726.34 C544.30,726.90 544.80,727.45 545.30,727.98 C545.80,728.50 546.30,729.01 546.80,729.51 C547.30,730.00 547.80,730.48 548.30,730.95 C548.80,731.41 549.30,731.86 549.80,732.30 C550.30,732.74 550.80,733.16 551.30,733.57 C551.80,733.98 552.30,734.38 552.80,734.76 C553.30,735.15 553.80,735.52 554.30,735.89 C554.80,736.25 555.30,736.60 555.80,736.94 C556.30,737.29 556.80,737.62 557.30,737.94 C557.80,738.27 558.30,738.58 558.80,738.89 C559.30,739.19 559.80,739.49 560.30,739.78 C560.80,740.07 561.30,740.35 561.80,740.62 C562.30,740.90 562.80,741.16 563.30,741.42 C563.80,741.68 564.30,741.93 564.80,742.18 C565.30,742.43 565.80,742.67 566.30,742.90 C566.80,743.13 567.30,743.36 567.80,743.59 C568.30,743.81 568.80,744.02 569.30,744.24 C569.80,744.45 570.30,744.66 570.80,744.86 C571.30,745.06 571.80,745.26 572.30,745.45 C572.80,745.64 573.30,745.83 573.80,746.01 C574.30,746.20 574.80,746.38 575.30,746.55 C575.80,746.73 576.30,746.90 576.80,747.07 C577.30,747.24 577.80,747.40 578.30,747.56 C578.80,747.72 579.30,747.88 579.80,748.04 C580.30,748.19 580.80,748.34 581.30,748.49 C581.80,748.64 582.30,748.78 582.80,748.92 C583.30,749.07 583.80,749.20 584.30,749.34 C584.80,749.48 585.30,749.61 585.80,749.74 C586.30,749.87 586.80,750.00 587.30,750.13 C587.80,750.25 588.30,750.38 588.80,750.50 C589.30,750.62 589.80,750.74 590.30,750.85 C590.80,750.97 591.30,751.09 591.80,751.20 C592.30,751.31 592.80,751.42 593.30,751.53 C593.80,751.64 594.30,751.74 594.80,751.85 C595.30,751.95 595.80,752.06 596.30,752.16 C596.80,752.26 597.30,752.36 597.80,752.45 C598.30,752.55 598.80,752.65 599.30,752.74 C599.80,752.84 600.30,752.93 600.80,753.02 C601.30,753.11 601.95,753.23 602.30,753.29 C602.65,753.35 602.80,753.38 602.90,753.39" fill="none" stroke="#0000ff" stroke-width="4.80" stroke-linejoin="round" stroke-linecap="round" clip-path="url(#cd)"/>
<path d="M608.40,753.21 C608.65,753.19 609.40,753.11 609.90,753.06 C610.40,753.01 610.90,752.96 611.40,752.91 C611.90,752.85 612.40,752.80 612.90,752.75 C613.40,752.69 613.90,752.64 614.40,752.58 C614.90,752.53 615.40,752.47 615.90,752.41 C616.40,752.36 616.90,752.30 617.40,752.24 C617.90,752.18 618.40,752.13 618.90,752.07 C619.40,752.01 619.90,751.95 620.40,751.88 C620.90,751.82 621.40,751.76 621.90,751.70 C622.40,751.64 622.90,751.57 623.40,751.51 C623.90,751.44 624.40,751.38 624.90,751.31 C625.40,751.24 625.90,751.18 626.40,751.11 C626.90,751.04 627.40,750.97 627.90,750.90 C628.40,750.83 628.90,750.76 629.40,750.69 C629.90,750.62 630.40,750.54 630.90,750.47 C631.40,750.39 631.90,750.32 632.40,750.24 C632.90,750.17 633.40,750.09 633.90,750.01 C634.40,749.93 634.90,749.85 635.40,749.77 C635.90,749.69 636.40,749.61 636.90,749.52 C637.40,749.44 637.90,749.36 638.40,749.27 C638.90,749.18 639.40,749.10 639.90,749.01 C640.40,748.92 640.90,748.83 641.40,748.74 C641.90,748.65 642.40,748.55 642.90,748.46 C643.40,748.37 643.90,748.27 644.40,748.17 C644.90,748.08 645.40,747.98 645.90,747.88 C646.40,747.78 646.90,747.67 647.40,747.57 C647.90,747.46 648.40,747.36 648.90,747.25 C649.40,747.14 649.90,747.03 650.40,746.92 C650.90,746.81 651.40,746.70 651.90,746.58 C652.40,746.47 652.90,746.35 653.40,746.23 C653.90,746.11 654.40,745.99 654.90,745.87 C655.40,745.75 655.90,745.62 656.40,745.49 C656.90,745.36 657.40,745.23 657.90,745.10 C658.40,744.97 658.90,744.83 659.40,744.69 C659.90,744.56 660.40,744.42 660.90,744.27 C661.40,744.13 661.90,743.98 662.40,743.83 C662.90,743.69 663.40,743.53 663.90,743.38 C664.40,743.22 664.90,743.07 665.40,742.91 C665.90,742.74 666.40,742.58 666.90,742.41 C667.40,742.24 667.90,742.07 668.40,741.90 C668.90,741.72 669.40,741.55 669.90,741.36 C670.40,741.18 670.90,741.00 671.40,740.80 C671.90,740.61 672.40,740.42 672.90,740.22 C673.40,740.02 673.90,739.82 674.40,739.61 C674.90,739.40 675.40,739.19 675.90,738.97 C676.40,738.76 676.90,738.53 677.40,738.31 C677.90,738.08 678.40,737.85 678.90,737.61 C679.40,737.37 679.90,737.13 680.40,736.88 C680.90,736.62 681.40,736.37 681.90,736.11 C682.40,735.84 682.90,735.57 683.40,735.30 C683.90,735.02 684.40,734.74 684.90,734.45 C685.40,734.16 685.90,733.86 686.40,733.55 C686.90,733.25 687.40,732.93 687.90,732.61 C688.40,732.29 688.90,731.96 689.40,731.62 C689.90,731.28 690.40,730.93 690.90,730.57 C691.40,730.21 691.90,729.84 692.40,729.46 C692.90,729.07 693.40,728.68 693.90,728.28 C694.40,727.88 694.90,727.46 695.40,727.04 C695.90,726.61 696.40,726.17 696.90,725.72 C697.40,725.26 697.90,724.80 698.40,724.31 C698.90,723.83 699.40,723.34 699.90,722.83 C700.40,722.31 700.90,721.79 701.40,721.24 C701.90,720.70 702.40,720.14 702.90,719.55 C703.40,718.97 703.90,718.38 704.40,717.76 C704.90,717.14 705.40,716.50 705.90,715.84 C706.40,715.18 706.90,714.50 707.40,713.80 C707.90,713.10 708.40,712.37 708.90,711.62 C709.40,710.87 709.90,710.10 710.40,709.30 C710.90,708.50 711.40,707.67 711.90,706.82 C712.40,705.97 712.90,705.10 713.40,704.19 C713.90,703.29 714.40,702.36 714.90,701.40 C715.40,700.45 715.90,699.46 716.40,698.45 C716.90,697.44 717.40,696.41 717.90,695.35 C718.40,694.29 718.90,693.21 719.40,692.11 C719.90,691.01 720.40,689.89 720.90,688.76 C721.40,687.64 721.90,686.49 722.40,685.35 C722.90,684.21 723.40,683.05 723.90,681.92 C724.40,680.79 724.90,679.66 725.40,678.57 C725.90,677.48 726.40,676.40 726.90,675.39 C727.40,674.38 727.90,673.39 728.40,672.50 C728.90,671.62 729.40,670.77 729.90,670.05 C730.40,669.33 730.90,668.68 731.40,668.16 C731.90,667.65 732.40,667.23 732.90,666.96 C733.40,666.69 733.90,666.54 734.40,666.52 C734.90,666.51 735.40,666.64 735.90,666.89 C736.40,667.14 736.90,667.54 737.40,668.04 C737.90,668.54 738.40,669.18 738.90,669.90 C739.40,670.62 739.90,671.46 740.40,672.36 C740.90,673.25 741.40,674.25 741.90,675.28 C742.40,676.30 742.90,677.40 743.40,678.52 C743.90,679.63 744.40,680.80 744.90,681.96 C745.40,683.12 745.90,684.31 746.40,685.49 C746.90,686.67 747.40,687.86 747.90,689.02 C748.40,690.19 748.90,691.35 749.40,692.49 C749.90,693.63 750.40,694.76 750.90,695.85 C751.40,696.95 751.90,698.03 752.40,699.07 C752.90,700.12 753.40,701.14 753.90,702.14 C754.40,703.13 754.90,704.10 755.40,705.04 C755.90,705.97 756.40,706.88 756.90,707.77 C757.40,708.65 757.90,709.51 758.40,710.34 C758.90,711.17 759.40,711.97 759.90,712.74 C760.40,713.52 760.90,714.27 761.40,715.00 C761.90,715.73 762.40,716.44 762.90,717.12 C763.40,717.80 763.90,718.46 764.40,719.10 C764.90,719.74 765.40,720.36 765.90,720.96 C766.40,721.56 766.90,722.14 767.40,722.70 C767.90,723.27 768.40,723.81 768.90,724.34 C769.40,724.87 769.90,725.38 770.40,725.88 C770.90,726.37 771.40,726.85 771.90,727.32 C772.40,727.79 772.90,728.24 773.40,728.68 C773.90,729.12 774.40,729.55 774.90,729.96 C775.40,730.38 775.90,730.78 776.40,731.17 C776.90,731.56 777.40,731.94 777.90,732.31 C778.40,732.68 778.90,733.04 779.40,733.39 C779.90,733.74 780.40,734.08 780.90,734.41 C781.40,734.74 781.90,735.06 782.40,735.38 C782.90,735.69 783.40,735.99 783.90,736.29 C784.40,736.59 784.90,736.88 785.40,737.16 C785.90,737.45 786.40,737.72 786.90,737.99 C787.40,738.26 787.90,738.52 788.40,738.78 C788.90,739.03 789.40,739.28 789.90,739.53 C790.40,739.77 790.90,740.01 791.40,740.24 C791.90,740.47 792.40,740.70 792.90,740.92 C793.40,741.14 793.90,741.36 794.40,741.57 C794.90,741.78 795.40,741.99 795.90,742.19 C796.40,742.39 796.90,742.59 797.40,742.79 C797.90,742.98 798.40,743.17 798.90,743.36 C799.40,743.54 799.90,743.72 800.40,743.90 C800.90,744.08 801.40,744.25 801.90,744.42 C802.40,744.59 802.90,744.76 803.40,744.92 C803.90,745.09 804.40,745.25 804.90,745.41 C805.40,745.56 805.90,745.72 806.40,745.87 C806.90,746.02 807.40,746.17 807.90,746.31 C808.40,746.46 808.90,746.60 809.40,746.74 C809.90,746.88 810.40,747.02 810.90,747.15 C811.40,747.29 811.90,747.42 812.40,747.55 C812.90,747.68 813.40,747.81 813.90,747.93 C814.40,748.06 814.90,748.18 815.40,748.30 C815.90,748.42 816.40,748.54 816.90,748.66 C817.40,748.77 817.90,748.89 818.40,749.00 C818.90,749.11 819.40,749.22 819.90,749.33 C820.40,749.44 820.90,749.55 821.40,749.65 C821.90,749.76 822.40,749.86 822.90,749.96 C823.40,750.06 823.90,750.16 824.40,750.26 C824.90,750.36 825.40,750.46 825.90,750.55 C826.40,750.65 826.90,750.74 827.40,750.83 C827.90,750.92 828.40,751.01 828.90,751.10 C829.40,751.19 829.90,751.28 830.40,751.37 C830.90,751.45 831.40,751.54 831.90,751.62 C832.40,751.71 832.90,751.79 833.40,751.87 C833.90,751.95 834.40,752.03 834.90,752.11 C835.40,752.19 836.07,752.29 836.40,752.35 C836.73,752.40 836.82,752.41 836.90,752.42" fill="none" stroke="#ff0000" stroke-width="4.80" stroke-linejoin="round" stroke-linecap="round" clip-path="url(#ce)"/>
<path d="M608.40,762.09 C608.65,762.08 609.40,762.06 609.90,762.04 C610.40,762.02 610.90,762.00 611.40,761.99 C611.90,761.97 612.40,761.95 612.90,761.93 C613.40,761.91 613.90,761.89 614.40,761.87 C614.90,761.85 615.40,761.84 615.90,761.82 C616.40,761.80 616.90,761.78 617.40,761.76 C617.90,761.74 618.40,761.72 618.90,761.70 C619.40,761.68 619.90,761.66 620.40,761.64 C620.90,761.62 621.40,761.59 621.90,761.57 C622.40,761.55 622.90,761.53 623.40,761.51 C623.90,761.49 624.40,761.47 624.90,761.44 C625.40,761.42 625.90,761.40 626.40,761.38 C626.90,761.36 627.40,761.33 627.90,761.31 C628.40,761.29 628.90,761.26 629.40,761.24 C629.90,761.22 630.40,761.19 630.90,761.17 C631.40,761.14 631.90,761.12 632.40,761.10 C632.90,761.07 633.40,761.05 633.90,761.02 C634.40,761.00 634.90,760.97 635.40,760.95 C635.90,760.92 636.40,760.89 636.90,760.87 C637.40,760.84 637.90,760.82 638.40,760.79 C638.90,760.76 639.40,760.74 639.90,760.71 C640.40,760.68 640.90,760.65 641.40,760.62 C641.90,760.60 642.40,760.57 642.90,760.54 C643.40,760.51 643.90,760.48 644.40,760.45 C644.90,760.42 645.40,760.39 645.90,760.36 C646.40,760.33 646.90,760.30 647.40,760.27 C647.90,760.24 648.40,760.21 648.90,760.18 C649.40,760.15 649.90,760.11 650.40,760.08 C650.90,760.05 651.40,760.02 651.90,759.98 C652.40,759.95 652.90,759.91 653.40,759.88 C653.90,759.85 654.40,759.81 654.90,759.78 C655.40,759.74 655.90,759.71 656.40,759.67 C656.90,759.63 657.40,759.60 657.90,759.56 C658.40,759.52 658.90,759.49 659.40,759.45 C659.90,759.41 660.40,759.37 660.90,759.33 C661.40,759.29 661.90,759.25 662.40,759.21 C662.90,759.17 663.40,759.13 663.90,759.09 C664.40,759.05 664.90,759.01 665.40,758.96 C665.90,758.92 666.40,758.88 666.90,758.83 C667.40,758.79 667.90,758.75 668.40,758.70 C668.90,758.65 669.40,758.61 669.90,758.56 C670.40,758.52 670.90,758.47 671.40,758.42 C671.90,758.37 672.40,758.32 672.90,758.27 C673.40,758.22 673.90,758.17 674.40,758.12 C674.90,758.07 675.40,758.02 675.90,757.97 C676.40,757.91 676.90,757.86 677.40,757.81 C677.90,757.75 678.40,757.70 678.90,757.64 C679.40,757.58 679.90,757.53 680.40,757.47 C680.90,757.41 681.40,757.35 681.90,757.29 C682.40,757.23 682.90,757.17 683.40,757.11 C683.90,757.04 684.40,756.98 684.90,756.92 C685.40,756.85 685.90,756.79 686.40,756.72 C686.90,756.65 687.40,756.58 687.90,756.51 C688.40,756.45 688.90,756.37 689.40,756.30 C689.90,756.23 690.40,756.16 690.90,756.08 C691.40,756.01 691.90,755.93 692.40,755.85 C692.90,755.78 693.40,755.70 693.90,755.62 C694.40,755.54 694.90,755.45 695.40,755.37 C695.90,755.29 696.40,755.20 696.90,755.11 C697.40,755.03 697.90,754.94 698.40,754.85 C698.90,754.76 699.40,754.66 699.90,754.57 C700.40,754.47 700.90,754.38 701.40,754.28 C701.90,754.18 702.40,754.08 702.90,753.97 C703.40,753.87 703.90,753.76 704.40,753.66 C704.90,753.55 705.40,753.44 705.90,753.32 C706.40,753.21 706.90,753.10 707.40,752.98 C707.90,752.86 708.40,752.74 708.90,752.61 C709.40,752.49 709.90,752.36 710.40,752.23 C710.90,752.10 711.40,751.97 711.90,751.83 C712.40,751.69 712.90,751.55 713.40,751.41 C713.90,751.27 714.40,751.12 714.90,750.97 C715.40,750.82 715.90,750.66 716.40,750.50 C716.90,750.34 717.40,750.18 717.90,750.01 C718.40,749.84 718.90,749.67 719.40,749.49 C719.90,749.31 720.40,749.13 720.90,748.94 C721.40,748.75 721.90,748.56 722.40,748.36 C722.90,748.16 723.40,747.95 723.90,747.74 C724.40,747.53 724.90,747.31 725.40,747.08 C725.90,746.86 726.40,746.63 726.90,746.39 C727.40,746.15 727.90,745.90 728.40,745.65 C728.90,745.39 729.40,745.13 729.90,744.85 C730.40,744.58 730.90,744.30 731.40,744.01 C731.90,743.72 732.40,743.41 732.90,743.10 C733.40,742.79 733.90,742.47 734.40,742.13 C734.90,741.80 735.40,741.45 735.90,741.09 C736.40,740.73 736.90,740.36 737.40,739.97 C737.90,739.58 738.40,739.18 738.90,738.77 C739.40,738.35 739.90,737.92 740.40,737.47 C740.90,737.02 741.40,736.55 741.90,736.06 C742.40,735.58 742.90,735.07 743.40,734.55 C743.90,734.02 744.40,733.48 744.90,732.91 C745.40,732.34 745.90,731.75 746.40,731.14 C746.90,730.53 747.40,729.89 747.90,729.23 C748.40,728.57 748.90,727.88 749.40,727.17 C749.90,726.46 750.40,725.73 750.90,724.97 C751.40,724.21 751.90,723.42 752.40,722.61 C752.90,721.81 753.40,720.97 753.90,720.13 C754.40,719.28 754.90,718.41 755.40,717.53 C755.90,716.66 756.40,715.76 756.90,714.88 C757.40,713.99 757.90,713.09 758.40,712.23 C758.90,711.37 759.40,710.50 759.90,709.69 C760.40,708.89 760.90,708.10 761.40,707.39 C761.90,706.69 762.40,706.03 762.90,705.48 C763.40,704.94 763.90,704.46 764.40,704.11 C764.90,703.76 765.40,703.51 765.90,703.40 C766.40,703.29 766.90,703.30 767.40,703.43 C767.90,703.56 768.40,703.83 768.90,704.20 C769.40,704.56 769.90,705.06 770.40,705.63 C770.90,706.20 771.40,706.88 771.90,707.61 C772.40,708.33 772.90,709.14 773.40,709.97 C773.90,710.80 774.40,711.68 774.90,712.57 C775.40,713.45 775.90,714.37 776.40,715.28 C776.90,716.18 777.40,717.10 777.90,717.99 C778.40,718.89 778.90,719.78 779.40,720.64 C779.90,721.51 780.40,722.36 780.90,723.18 C781.40,724.00 781.90,724.81 782.40,725.58 C782.90,726.35 783.40,727.10 783.90,727.83 C784.40,728.55 784.90,729.25 785.40,729.92 C785.90,730.59 786.40,731.24 786.90,731.86 C787.40,732.49 787.90,733.08 788.40,733.66 C788.90,734.24 789.40,734.79 789.90,735.32 C790.40,735.86 790.90,736.37 791.40,736.86 C791.90,737.36 792.40,737.83 792.90,738.29 C793.40,738.74 793.90,739.18 794.40,739.60 C794.90,740.03 795.40,740.43 795.90,740.82 C796.40,741.22 796.90,741.59 797.40,741.96 C797.90,742.32 798.40,742.67 798.90,743.01 C799.40,743.35 799.90,743.68 800.40,743.99 C800.90,744.31 801.40,744.61 801.90,744.91 C802.40,745.21 802.90,745.49 803.40,745.77 C803.90,746.04 804.40,746.31 804.90,746.57 C805.40,746.82 805.90,747.07 806.40,747.32 C806.90,747.56 807.40,747.79 807.90,748.02 C808.40,748.25 808.90,748.47 809.40,748.68 C809.90,748.89 810.40,749.10 810.90,749.30 C811.40,749.51 811.90,749.70 812.40,749.89 C812.90,750.08 813.40,750.27 813.90,750.45 C814.40,750.63 814.90,750.80 815.40,750.97 C815.90,751.14 816.40,751.30 816.90,751.47 C817.40,751.63 817.90,751.78 818.40,751.94 C818.90,752.09 819.40,752.24 819.90,752.38 C820.40,752.53 820.90,752.67 821.40,752.81 C821.90,752.95 822.40,753.08 822.90,753.21 C823.40,753.34 823.90,753.47 824.40,753.59 C824.90,753.72 825.40,753.84 825.90,753.96 C826.40,754.08 826.90,754.20 827.40,754.31 C827.90,754.42 828.40,754.54 828.90,754.64 C829.40,754.75 829.90,754.86 830.40,754.96 C830.90,755.07 831.40,755.17 831.90,755.27 C832.40,755.37 832.90,755.47 833.40,755.56 C833.90,755.66 834.40,755.75 834.90,755.84 C835.40,755.93 836.07,756.05 836.40,756.11 C836.73,756.17 836.82,756.18 836.90,756.20" fill="none" stroke="#0000ff" stroke-width="4.80" stroke-linejoin="round" stroke-linecap="round" clip-path="url(#ce)"/>
<path d="M139.80,913.55 C140.05,913.53 140.80,913.45 141.30,913.40 C141.80,913.35 142.30,913.30 142.80,913.24 C143.30,913.19 143.80,913.14 144.30,913.08 C144.80,913.03 145.30,912.97 145.80,912.91 C146.30,912.85 146.80,912.80 147.30,912.74 C147.80,912.68 148.30,912.62 148.80,912.55 C149.30,912.49 149.80,912.43 150.30,912.37 C150.80,912.30 151.30,912.24 151.80,912.17 C152.30,912.10 152.80,912.04 153.30,911.97 C153.80,911.90 154.30,911.83 154.80,911.75 C155.30,911.68 155.80,911.61 156.30,911.53 C156.80,911.46 157.30,911.38 157.80,911.30 C158.30,911.23 158.80,911.15 159.30,911.07 C159.80,910.98 160.30,910.90 160.80,910.82 C161.30,910.73 161.80,910.65 162.30,910.56 C162.80,910.47 163.30,910.38 163.80,910.29 C164.30,910.20 164.80,910.10 165.30,910.01 C165.80,909.91 166.30,909.81 166.80,909.71 C167.30,909.61 167.80,909.51 168.30,909.40 C168.80,909.30 169.30,909.19 169.80,909.08 C170.30,908.97 170.80,908.86 171.30,908.75 C171.80,908.63 172.30,908.52 172.80,908.40 C173.30,908.28 173.80,908.15 174.30,908.03 C174.80,907.90 175.30,907.77 175.80,907.64 C176.30,907.51 176.80,907.37 177.30,907.23 C177.80,907.10 178.30,906.95 178.80,906.81 C179.30,906.66 179.80,906.51 180.30,906.36 C180.80,906.21 181.30,906.05 181.80,905.89 C182.30,905.73 182.80,905.57 183.30,905.40 C183.80,905.23 184.30,905.05 184.80,904.87 C185.30,904.69 185.80,904.51 186.30,904.32 C186.80,904.13 187.30,903.94 187.80,903.74 C188.30,903.54 188.80,903.34 189.30,903.12 C189.80,902.91 190.30,902.70 190.80,902.47 C191.30,902.25 191.80,902.02 192.30,901.78 C192.80,901.55 193.30,901.30 193.80,901.05 C194.30,900.80 194.80,900.54 195.30,900.28 C195.80,900.01 196.30,899.74 196.80,899.45 C197.30,899.17 197.80,898.88 198.30,898.58 C198.80,898.27 199.30,897.96 199.80,897.64 C200.30,897.32 200.80,896.99 201.30,896.65 C201.80,896.31 202.30,895.96 202.80,895.59 C203.30,895.23 203.80,894.85 204.30,894.46 C204.80,894.07 205.30,893.67 205.80,893.26 C206.30,892.84 206.80,892.42 207.30,891.98 C207.80,891.53 208.30,891.08 208.80,890.61 C209.30,890.13 209.80,889.65 210.30,889.15 C210.80,888.64 211.30,888.13 211.80,887.59 C212.30,887.06 212.80,886.51 213.30,885.94 C213.80,885.37 214.30,884.79 214.80,884.19 C215.30,883.58 215.80,882.96 216.30,882.33 C216.80,881.69 217.30,881.04 217.80,880.37 C218.30,879.70 218.80,879.01 219.30,878.31 C219.80,877.60 220.30,876.88 220.80,876.15 C221.30,875.42 221.80,874.67 222.30,873.91 C222.80,873.15 223.30,872.37 223.80,871.59 C224.30,870.80 224.80,870.00 225.30,869.20 C225.80,868.40 226.30,867.59 226.80,866.77 C227.30,865.96 227.80,865.14 228.30,864.32 C228.80,863.50 229.30,862.67 229.80,861.85 C230.30,861.03 230.80,860.21 231.30,859.40 C231.80,858.59 232.30,857.78 232.80,856.98 C233.30,856.19 233.80,855.40 234.30,854.62 C234.80,853.84 235.30,853.07 235.80,852.32 C236.30,851.57 236.80,850.83 237.30,850.10 C237.80,849.38 238.30,848.67 238.80,847.97 C239.30,847.28 239.80,846.60 240.30,845.94 C240.80,845.28 241.30,844.64 241.80,844.01 C242.30,843.39 242.80,842.78 243.30,842.19 C243.80,841.59 244.30,841.02 244.80,840.46 C245.30,839.90 245.80,839.36 246.30,838.84 C246.80,838.31 247.30,837.81 247.80,837.31 C248.30,836.82 248.80,836.34 249.30,835.88 C249.80,835.42 250.30,834.97 250.80,834.54 C251.30,834.10 251.80,833.68 252.30,833.28 C252.80,832.87 253.30,832.48 253.80,832.10 C254.30,831.71 254.80,831.35 255.30,830.99 C255.80,830.63 256.30,830.28 256.80,829.95 C257.30,829.61 257.80,829.29 258.30,828.97 C258.80,828.66 259.30,828.35 259.80,828.06 C260.30,827.76 260.80,827.47 261.30,827.20 C261.80,826.92 262.30,826.65 262.80,826.38 C263.30,826.12 263.80,825.87 264.30,825.62 C264.80,825.37 265.30,825.14 265.80,824.90 C266.30,824.67 266.80,824.44 267.30,824.22 C267.80,824.00 268.30,823.79 268.80,823.58 C269.30,823.37 269.80,823.17 270.30,822.97 C270.80,822.78 271.30,822.59 271.80,822.40 C272.30,822.21 272.80,822.03 273.30,821.86 C273.80,821.68 274.30,821.51 274.80,821.34 C275.30,821.17 275.80,821.01 276.30,820.85 C276.80,820.69 277.30,820.54 277.80,820.39 C278.30,820.23 278.80,820.09 279.30,819.94 C279.80,819.80 280.30,819.66 280.80,819.52 C281.30,819.38 281.80,819.25 282.30,819.12 C282.80,818.99 283.30,818.86 283.80,818.74 C284.30,818.61 284.80,818.49 285.30,818.37 C285.80,818.25 286.30,818.14 286.80,818.02 C287.30,817.91 287.80,817.80 288.30,817.69 C288.80,817.58 289.30,817.47 289.80,817.37 C290.30,817.26 290.80,817.16 291.30,817.06 C291.80,816.96 292.30,816.87 292.80,816.77 C293.30,816.67 293.80,816.58 294.30,816.49 C294.80,816.40 295.30,816.31 295.80,816.22 C296.30,816.13 296.80,816.05 297.30,815.96 C297.80,815.88 298.30,815.79 298.80,815.71 C299.30,815.63 299.80,815.55 300.30,815.47 C300.80,815.40 301.30,815.32 301.80,815.24 C302.30,815.17 302.80,815.10 303.30,815.02 C303.80,814.95 304.30,814.88 304.80,814.81 C305.30,814.74 305.80,814.67 306.30,814.61 C306.80,814.54 307.30,814.47 307.80,814.41 C308.30,814.35 308.80,814.28 309.30,814.22 C309.80,814.16 310.30,814.10 310.80,814.04 C311.30,813.98 311.80,813.92 312.30,813.86 C312.80,813.80 313.30,813.75 313.80,813.69 C314.30,813.63 314.80,813.58 315.30,813.53 C315.80,813.47 316.30,813.42 316.80,813.37 C317.30,813.32 317.80,813.26 318.30,813.21 C318.80,813.16 319.30,813.12 319.80,813.07 C320.30,813.02 320.80,812.97 321.30,812.92 C321.80,812.88 322.30,812.83 322.80,812.79 C323.30,812.74 323.80,812.70 324.30,812.65 C324.80,812.61 325.30,812.57 325.80,812.52 C326.30,812.48 326.80,812.44 327.30,812.40 C327.80,812.36 328.30,812.32 328.80,812.28 C329.30,812.24 329.80,812.20 330.30,812.16 C330.80,812.12 331.30,812.09 331.80,812.05 C332.30,812.01 332.80,811.98 333.30,811.94 C333.80,811.90 334.30,811.87 334.80,811.84 C335.30,811.80 335.80,811.77 336.30,811.73 C336.80,811.70 337.30,811.67 337.80,811.64 C338.30,811.60 338.80,811.57 339.30,811.54 C339.80,811.51 340.30,811.48 340.80,811.45 C341.30,811.42 341.80,811.39 342.30,811.36 C342.80,811.33 343.30,811.30 343.80,811.27 C344.30,811.24 344.80,811.22 345.30,811.19 C345.80,811.16 346.30,811.14 346.80,811.11 C347.30,811.08 347.80,811.06 348.30,811.03 C348.80,811.01 349.30,810.98 349.80,810.96 C350.30,810.93 350.80,810.91 351.30,810.88 C351.80,810.86 352.30,810.84 352.80,810.81 C353.30,810.79 353.80,810.77 354.30,810.75 C354.80,810.72 355.30,810.70 355.80,810.68 C356.30,810.66 356.80,810.64 357.30,810.62 C357.80,810.60 358.30,810.58 358.80,810.56 C359.30,810.54 359.80,810.52 360.30,810.50 C360.80,810.48 361.30,810.46 361.80,810.44 C362.30,810.42 362.80,810.41 363.30,810.39 C363.80,810.37 364.30,810.35 364.80,810.34 C365.30,810.32 365.80,810.30 366.30,810.29 C366.80,810.27 367.43,810.25 367.80,810.24 C368.17,810.23 368.38,810.22 368.50,810.22" fill="none" stroke="#0000ff" stroke-width="4.80" stroke-linejoin="round" stroke-linecap="round" clip-path="url(#cf)"/>
<path d="M374.30,920.30 C374.55,920.28 375.30,920.22 375.80,920.18 C376.30,920.14 376.80,920.11 377.30,920.07 C377.80,920.03 378.30,919.99 378.80,919.95 C379.30,919.91 379.80,919.88 380.30,919.84 C380.80,919.80 381.30,919.76 381.80,919.72 C382.30,919.68 382.80,919.65 383.30,919.61 C383.80,919.57 384.30,919.53 384.80,919.49 C385.30,919.45 385.80,919.42 386.30,919.38 C386.80,919.34 387.30,919.30 387.80,919.26 C388.30,919.23 388.80,919.19 389.30,919.15 C389.80,919.11 390.30,919.07 390.80,919.03 C391.30,919.00 391.80,918.96 392.30,918.92 C392.80,918.88 393.30,918.84 393.80,918.81 C394.30,918.77 394.80,918.73 395.30,918.69 C395.80,918.65 396.30,918.61 396.80,918.58 C397.30,918.54 397.80,918.50 398.30,918.46 C398.80,918.42 399.30,918.38 399.80,918.35 C400.30,918.31 400.80,918.27 401.30,918.23 C401.80,918.19 402.30,918.15 402.80,918.11 C403.30,918.07 403.80,918.04 404.30,918.00 C404.80,917.96 405.30,917.92 405.80,917.88 C406.30,917.84 406.80,917.80 407.30,917.76 C407.80,917.72 408.30,917.68 408.80,917.64 C409.30,917.60 409.80,917.56 410.30,917.52 C410.80,917.48 411.30,917.44 411.80,917.40 C412.30,917.36 412.80,917.32 413.30,917.28 C413.80,917.24 414.30,917.20 414.80,917.16 C415.30,917.12 415.80,917.08 416.30,917.04 C416.80,917.00 417.30,916.96 417.80,916.91 C418.30,916.87 418.80,916.83 419.30,916.79 C419.80,916.75 420.30,916.70 420.80,916.66 C421.30,916.62 421.80,916.58 422.30,916.53 C422.80,916.49 423.30,916.45 423.80,916.40 C424.30,916.36 424.80,916.31 425.30,916.27 C425.80,916.23 426.30,916.18 426.80,916.14 C427.30,916.09 427.80,916.04 428.30,916.00 C428.80,915.95 429.30,915.91 429.80,915.86 C430.30,915.81 430.80,915.77 431.30,915.72 C431.80,915.67 432.30,915.62 432.80,915.57 C433.30,915.53 433.80,915.48 434.30,915.43 C434.80,915.38 435.30,915.33 435.80,915.28 C436.30,915.23 436.80,915.17 437.30,915.12 C437.80,915.07 438.30,915.02 438.80,914.97 C439.30,914.91 439.80,914.86 440.30,914.80 C440.80,914.75 441.30,914.69 441.80,914.64 C442.30,914.58 442.80,914.53 443.30,914.47 C443.80,914.41 444.30,914.35 444.80,914.29 C445.30,914.23 445.80,914.17 446.30,914.11 C446.80,914.05 447.30,913.99 447.80,913.93 C448.30,913.86 448.80,913.80 449.30,913.73 C449.80,913.67 450.30,913.60 450.80,913.53 C451.30,913.47 451.80,913.40 452.30,913.33 C452.80,913.26 453.30,913.19 453.80,913.11 C454.30,913.04 454.80,912.97 455.30,912.89 C455.80,912.81 456.30,912.74 456.80,912.66 C457.30,912.58 457.80,912.50 458.30,912.42 C458.80,912.33 459.30,912.25 459.80,912.16 C460.30,912.08 460.80,911.99 461.30,911.90 C461.80,911.81 462.30,911.72 462.80,911.62 C463.30,911.53 463.80,911.43 464.30,911.34 C464.80,911.24 465.30,911.14 465.80,911.03 C466.30,910.93 466.80,910.82 467.30,910.71 C467.80,910.60 468.30,910.49 468.80,910.37 C469.30,910.26 469.80,910.14 470.30,910.02 C470.80,909.90 471.30,909.77 471.80,909.64 C472.30,909.51 472.80,909.38 473.30,909.24 C473.80,909.10 474.30,908.96 474.80,908.82 C475.30,908.67 475.80,908.52 476.30,908.36 C476.80,908.21 477.30,908.05 477.80,907.88 C478.30,907.72 478.80,907.55 479.30,907.37 C479.80,907.19 480.30,907.01 480.80,906.82 C481.30,906.63 481.80,906.43 482.30,906.22 C482.80,906.02 483.30,905.81 483.80,905.59 C484.30,905.37 484.80,905.14 485.30,904.90 C485.80,904.66 486.30,904.42 486.80,904.16 C487.30,903.90 487.80,903.63 488.30,903.35 C488.80,903.07 489.30,902.78 489.80,902.48 C490.30,902.18 490.80,901.86 491.30,901.53 C491.80,901.20 492.30,900.85 492.80,900.49 C493.30,900.13 493.80,899.75 494.30,899.35 C494.80,898.96 495.30,898.54 495.80,898.11 C496.30,897.67 496.80,897.22 497.30,896.74 C497.80,896.26 498.30,895.76 498.80,895.23 C499.30,894.70 499.80,894.15 500.30,893.57 C500.80,892.98 501.30,892.38 501.80,891.73 C502.30,891.09 502.80,890.42 503.30,889.71 C503.80,889.00 504.30,888.26 504.80,887.48 C505.30,886.70 505.80,885.88 506.30,885.03 C506.80,884.17 507.30,883.27 507.80,882.34 C508.30,881.41 508.80,880.43 509.30,879.42 C509.80,878.41 510.30,877.36 510.80,876.28 C511.30,875.20 511.80,874.07 512.30,872.93 C512.80,871.78 513.30,870.60 513.80,869.41 C514.30,868.22 514.80,867.00 515.30,865.78 C515.80,864.56 516.30,863.32 516.80,862.09 C517.30,860.87 517.80,859.63 518.30,858.42 C518.80,857.22 519.30,856.01 519.80,854.84 C520.30,853.67 520.80,852.52 521.30,851.41 C521.80,850.29 522.30,849.21 522.80,848.16 C523.30,847.11 523.80,846.10 524.30,845.13 C524.80,844.16 525.30,843.23 525.80,842.34 C526.30,841.44 526.80,840.59 527.30,839.78 C527.80,838.96 528.30,838.19 528.80,837.44 C529.30,836.70 529.80,836.00 530.30,835.33 C530.80,834.65 531.30,834.02 531.80,833.41 C532.30,832.80 532.80,832.22 533.30,831.67 C533.80,831.12 534.30,830.60 534.80,830.09 C535.30,829.59 535.80,829.12 536.30,828.67 C536.80,828.21 537.30,827.78 537.80,827.37 C538.30,826.96 538.80,826.57 539.30,826.19 C539.80,825.81 540.30,825.46 540.80,825.12 C541.30,824.77 541.80,824.45 542.30,824.13 C542.80,823.82 543.30,823.52 543.80,823.23 C544.30,822.94 544.80,822.67 545.30,822.41 C545.80,822.14 546.30,821.89 546.80,821.65 C547.30,821.40 547.80,821.17 548.30,820.94 C548.80,820.72 549.30,820.50 549.80,820.30 C550.30,820.09 550.80,819.89 551.30,819.70 C551.80,819.50 552.30,819.32 552.80,819.14 C553.30,818.96 553.80,818.79 554.30,818.62 C554.80,818.45 555.30,818.29 555.80,818.14 C556.30,817.98 556.80,817.83 557.30,817.69 C557.80,817.54 558.30,817.40 558.80,817.26 C559.30,817.13 559.80,817.00 560.30,816.87 C560.80,816.74 561.30,816.62 561.80,816.50 C562.30,816.38 562.80,816.26 563.30,816.15 C563.80,816.04 564.30,815.93 564.80,815.82 C565.30,815.71 565.80,815.61 566.30,815.51 C566.80,815.41 567.30,815.31 567.80,815.22 C568.30,815.12 568.80,815.03 569.30,814.94 C569.80,814.85 570.30,814.76 570.80,814.67 C571.30,814.59 571.80,814.51 572.30,814.42 C572.80,814.34 573.30,814.26 573.80,814.19 C574.30,814.11 574.80,814.03 575.30,813.96 C575.80,813.89 576.30,813.81 576.80,813.74 C577.30,813.67 577.80,813.61 578.30,813.54 C578.80,813.47 579.30,813.41 579.80,813.34 C580.30,813.28 580.80,813.21 581.30,813.15 C581.80,813.09 582.30,813.03 582.80,812.97 C583.30,812.91 583.80,812.85 584.30,812.80 C584.80,812.74 585.30,812.69 585.80,812.63 C586.30,812.58 586.80,812.52 587.30,812.47 C587.80,812.42 588.30,812.37 588.80,812.32 C589.30,812.27 589.80,812.22 590.30,812.17 C590.80,812.12 591.30,812.07 591.80,812.02 C592.30,811.98 592.80,811.93 593.30,811.88 C593.80,811.84 594.30,811.79 594.80,811.75 C595.30,811.70 595.80,811.66 596.30,811.62 C596.80,811.57 597.30,811.53 597.80,811.49 C598.30,811.45 598.80,811.41 599.30,811.37 C599.80,811.32 600.30,811.28 600.80,811.24 C601.30,811.21 601.95,811.15 602.30,811.13 C602.65,811.10 602.80,811.09 602.90,811.08" fill="none" stroke="#ff0000" stroke-width="4.80" stroke-linejoin="round" stroke-linecap="round" clip-path="url(#cg)"/>
<path d="M374.30,915.60 C374.55,915.58 375.30,915.51 375.80,915.47 C376.30,915.43 376.80,915.38 377.30,915.34 C377.80,915.29 378.30,915.25 378.80,915.21 C379.30,915.16 379.80,915.12 380.30,915.07 C380.80,915.03 381.30,914.99 381.80,914.94 C382.30,914.90 382.80,914.86 383.30,914.82 C383.80,914.77 384.30,914.73 384.80,914.69 C385.30,914.64 385.80,914.60 386.30,914.56 C386.80,914.52 387.30,914.47 387.80,914.43 C388.30,914.39 388.80,914.35 389.30,914.31 C389.80,914.26 390.30,914.22 390.80,914.18 C391.30,914.14 391.80,914.10 392.30,914.06 C392.80,914.01 393.30,913.97 393.80,913.93 C394.30,913.89 394.80,913.85 395.30,913.81 C395.80,913.77 396.30,913.73 396.80,913.69 C397.30,913.65 397.80,913.60 398.30,913.56 C398.80,913.52 399.30,913.48 399.80,913.44 C400.30,913.40 400.80,913.36 401.30,913.32 C401.80,913.28 402.30,913.24 402.80,913.20 C403.30,913.16 403.80,913.12 404.30,913.08 C404.80,913.04 405.30,913.00 405.80,912.96 C406.30,912.92 406.80,912.88 407.30,912.84 C407.80,912.80 408.30,912.76 408.80,912.72 C409.30,912.68 409.80,912.64 410.30,912.60 C410.80,912.56 411.30,912.52 411.80,912.48 C412.30,912.44 412.80,912.40 413.30,912.35 C413.80,912.31 414.30,912.27 414.80,912.23 C415.30,912.19 415.80,912.15 416.30,912.11 C416.80,912.07 417.30,912.03 417.80,911.99 C418.30,911.95 418.80,911.91 419.30,911.87 C419.80,911.83 420.30,911.79 420.80,911.74 C421.30,911.70 421.80,911.66 422.30,911.62 C422.80,911.58 423.30,911.54 423.80,911.49 C424.30,911.45 424.80,911.41 425.30,911.37 C425.80,911.33 426.30,911.28 426.80,911.24 C427.30,911.20 427.80,911.15 428.30,911.11 C428.80,911.07 429.30,911.02 429.80,910.98 C430.30,910.93 430.80,910.89 431.30,910.85 C431.80,910.80 432.30,910.76 432.80,910.71 C433.30,910.66 433.80,910.62 434.30,910.57 C434.80,910.53 435.30,910.48 435.80,910.43 C436.30,910.38 436.80,910.34 437.30,910.29 C437.80,910.24 438.30,910.19 438.80,910.14 C439.30,910.09 439.80,910.04 440.30,909.99 C440.80,909.94 441.30,909.89 441.80,909.84 C442.30,909.79 442.80,909.73 443.30,909.68 C443.80,909.63 444.30,909.57 444.80,909.52 C445.30,909.46 445.80,909.41 446.30,909.35 C446.80,909.29 447.30,909.23 447.80,909.18 C448.30,909.12 448.80,909.06 449.30,909.00 C449.80,908.93 450.30,908.87 450.80,908.81 C451.30,908.75 451.80,908.68 452.30,908.62 C452.80,908.55 453.30,908.48 453.80,908.42 C454.30,908.35 454.80,908.28 455.30,908.21 C455.80,908.14 456.30,908.06 456.80,907.99 C457.30,907.91 457.80,907.84 458.30,907.76 C458.80,907.68 459.30,907.60 459.80,907.52 C460.30,907.44 460.80,907.36 461.30,907.27 C461.80,907.18 462.30,907.10 462.80,907.01 C463.30,906.92 463.80,906.82 464.30,906.73 C464.80,906.63 465.30,906.54 465.80,906.44 C466.30,906.34 466.80,906.23 467.30,906.13 C467.80,906.02 468.30,905.91 468.80,905.80 C469.30,905.69 469.80,905.57 470.30,905.45 C470.80,905.33 471.30,905.21 471.80,905.08 C472.30,904.95 472.80,904.82 473.30,904.69 C473.80,904.55 474.30,904.41 474.80,904.27 C475.30,904.12 475.80,903.97 476.30,903.82 C476.80,903.66 477.30,903.50 477.80,903.33 C478.30,903.17 478.80,903.00 479.30,902.82 C479.80,902.64 480.30,902.45 480.80,902.26 C481.30,902.07 481.80,901.87 482.30,901.66 C482.80,901.45 483.30,901.24 483.80,901.01 C484.30,900.79 484.80,900.56 485.30,900.31 C485.80,900.07 486.30,899.82 486.80,899.55 C487.30,899.29 487.80,899.01 488.30,898.72 C488.80,898.43 489.30,898.14 489.80,897.82 C490.30,897.51 490.80,897.18 491.30,896.84 C491.80,896.49 492.30,896.13 492.80,895.76 C493.30,895.38 493.80,894.99 494.30,894.58 C494.80,894.16 495.30,893.73 495.80,893.28 C496.30,892.82 496.80,892.35 497.30,891.85 C497.80,891.35 498.30,890.83 498.80,890.28 C499.30,889.73 499.80,889.15 500.30,888.54 C500.80,887.94 501.30,887.30 501.80,886.63 C502.30,885.97 502.80,885.27 503.30,884.53 C503.80,883.80 504.30,883.03 504.80,882.23 C505.30,881.42 505.80,880.58 506.30,879.71 C506.80,878.83 507.30,877.92 507.80,876.97 C508.30,876.02 508.80,875.03 509.30,874.01 C509.80,872.99 510.30,871.94 510.80,870.86 C511.30,869.78 511.80,868.66 512.30,867.54 C512.80,866.41 513.30,865.25 513.80,864.09 C514.30,862.93 514.80,861.75 515.30,860.57 C515.80,859.40 516.30,858.21 516.80,857.04 C517.30,855.88 517.80,854.71 518.30,853.57 C518.80,852.43 519.30,851.30 519.80,850.21 C520.30,849.11 520.80,848.04 521.30,847.00 C521.80,845.97 522.30,844.96 522.80,843.99 C523.30,843.02 523.80,842.08 524.30,841.18 C524.80,840.28 525.30,839.42 525.80,838.60 C526.30,837.77 526.80,836.98 527.30,836.23 C527.80,835.47 528.30,834.75 528.80,834.07 C529.30,833.38 529.80,832.72 530.30,832.10 C530.80,831.47 531.30,830.88 531.80,830.31 C532.30,829.74 532.80,829.21 533.30,828.69 C533.80,828.17 534.30,827.68 534.80,827.21 C535.30,826.75 535.80,826.30 536.30,825.87 C536.80,825.45 537.30,825.04 537.80,824.65 C538.30,824.26 538.80,823.89 539.30,823.54 C539.80,823.18 540.30,822.84 540.80,822.52 C541.30,822.19 541.80,821.88 542.30,821.58 C542.80,821.28 543.30,821.00 543.80,820.72 C544.30,820.45 544.80,820.19 545.30,819.93 C545.80,819.68 546.30,819.44 546.80,819.21 C547.30,818.97 547.80,818.75 548.30,818.53 C548.80,818.31 549.30,818.11 549.80,817.90 C550.30,817.70 550.80,817.51 551.30,817.32 C551.80,817.14 552.30,816.96 552.80,816.78 C553.30,816.61 553.80,816.44 554.30,816.28 C554.80,816.11 555.30,815.96 555.80,815.80 C556.30,815.65 556.80,815.50 557.30,815.36 C557.80,815.22 558.30,815.08 558.80,814.94 C559.30,814.81 559.80,814.68 560.30,814.55 C560.80,814.42 561.30,814.30 561.80,814.18 C562.30,814.06 562.80,813.94 563.30,813.83 C563.80,813.72 564.30,813.60 564.80,813.50 C565.30,813.39 565.80,813.28 566.30,813.18 C566.80,813.08 567.30,812.98 567.80,812.88 C568.30,812.78 568.80,812.69 569.30,812.60 C569.80,812.50 570.30,812.41 570.80,812.32 C571.30,812.23 571.80,812.15 572.30,812.06 C572.80,811.98 573.30,811.89 573.80,811.81 C574.30,811.73 574.80,811.65 575.30,811.57 C575.80,811.49 576.30,811.42 576.80,811.34 C577.30,811.26 577.80,811.19 578.30,811.12 C578.80,811.04 579.30,810.97 579.80,810.90 C580.30,810.83 580.80,810.76 581.30,810.69 C581.80,810.63 582.30,810.56 582.80,810.49 C583.30,810.43 583.80,810.36 584.30,810.30 C584.80,810.23 585.30,810.17 585.80,810.11 C586.30,810.04 586.80,809.98 587.30,809.92 C587.80,809.86 588.30,809.80 588.80,809.74 C589.30,809.68 589.80,809.62 590.30,809.56 C590.80,809.50 591.30,809.45 591.80,809.39 C592.30,809.33 592.80,809.28 593.30,809.22 C593.80,809.17 594.30,809.11 594.80,809.05 C595.30,809.00 595.80,808.95 596.30,808.89 C596.80,808.84 597.30,808.78 597.80,808.73 C598.30,808.68 598.80,808.63 599.30,808.57 C599.80,808.52 600.30,808.47 600.80,808.42 C601.30,808.37 601.95,808.30 602.30,808.26 C602.65,808.23 602.80,808.21 602.90,808.20" fill="none" stroke="#0000ff" stroke-width="4.80" stroke-linejoin="round" stroke-linecap="round" clip-path="url(#cg)"/>
<path d="M608.40,920.28 C608.65,920.26 609.40,920.18 609.90,920.13 C610.40,920.08 610.90,920.03 611.40,919.98 C611.90,919.94 612.40,919.89 612.90,919.84 C613.40,919.79 613.90,919.74 614.40,919.69 C614.90,919.64 615.40,919.59 615.90,919.54 C616.40,919.49 616.90,919.44 617.40,919.39 C617.90,919.34 618.40,919.29 618.90,919.24 C619.40,919.19 619.90,919.14 620.40,919.09 C620.90,919.04 621.40,918.99 621.90,918.94 C622.40,918.89 622.90,918.83 623.40,918.78 C623.90,918.73 624.40,918.68 624.90,918.63 C625.40,918.58 625.90,918.53 626.40,918.48 C626.90,918.43 627.40,918.38 627.90,918.32 C628.40,918.27 628.90,918.22 629.40,918.17 C629.90,918.12 630.40,918.06 630.90,918.01 C631.40,917.96 631.90,917.91 632.40,917.85 C632.90,917.80 633.40,917.75 633.90,917.70 C634.40,917.64 634.90,917.59 635.40,917.54 C635.90,917.48 636.40,917.43 636.90,917.37 C637.40,917.32 637.90,917.27 638.40,917.21 C638.90,917.16 639.40,917.10 639.90,917.05 C640.40,916.99 640.90,916.94 641.40,916.88 C641.90,916.83 642.40,916.77 642.90,916.71 C643.40,916.66 643.90,916.60 644.40,916.54 C644.90,916.49 645.40,916.43 645.90,916.37 C646.40,916.31 646.90,916.25 647.40,916.20 C647.90,916.14 648.40,916.08 648.90,916.02 C649.40,915.96 649.90,915.90 650.40,915.84 C650.90,915.78 651.40,915.72 651.90,915.66 C652.40,915.59 652.90,915.53 653.40,915.47 C653.90,915.41 654.40,915.34 654.90,915.28 C655.40,915.22 655.90,915.15 656.40,915.09 C656.90,915.02 657.40,914.96 657.90,914.89 C658.40,914.83 658.90,914.76 659.40,914.69 C659.90,914.62 660.40,914.55 660.90,914.49 C661.40,914.42 661.90,914.35 662.40,914.28 C662.90,914.20 663.40,914.13 663.90,914.06 C664.40,913.99 664.90,913.91 665.40,913.84 C665.90,913.77 666.40,913.69 666.90,913.61 C667.40,913.54 667.90,913.46 668.40,913.38 C668.90,913.30 669.40,913.22 669.90,913.14 C670.40,913.06 670.90,912.98 671.40,912.90 C671.90,912.81 672.40,912.73 672.90,912.64 C673.40,912.55 673.90,912.47 674.40,912.38 C674.90,912.29 675.40,912.20 675.90,912.10 C676.40,912.01 676.90,911.92 677.40,911.82 C677.90,911.73 678.40,911.63 678.90,911.53 C679.40,911.43 679.90,911.33 680.40,911.23 C680.90,911.12 681.40,911.02 681.90,910.91 C682.40,910.80 682.90,910.69 683.40,910.58 C683.90,910.47 684.40,910.35 684.90,910.23 C685.40,910.12 685.90,909.99 686.40,909.87 C686.90,909.75 687.40,909.62 687.90,909.49 C688.40,909.36 688.90,909.23 689.40,909.10 C689.90,908.96 690.40,908.82 690.90,908.68 C691.40,908.53 691.90,908.39 692.40,908.24 C692.90,908.09 693.40,907.93 693.90,907.77 C694.40,907.61 694.90,907.45 695.40,907.28 C695.90,907.11 696.40,906.94 696.90,906.76 C697.40,906.58 697.90,906.39 698.40,906.20 C698.90,906.01 699.40,905.81 699.90,905.61 C700.40,905.41 700.90,905.20 701.40,904.98 C701.90,904.76 702.40,904.54 702.90,904.31 C703.40,904.07 703.90,903.83 704.40,903.58 C704.90,903.33 705.40,903.07 705.90,902.81 C706.40,902.54 706.90,902.26 707.40,901.97 C707.90,901.68 708.40,901.38 708.90,901.07 C709.40,900.75 709.90,900.43 710.40,900.09 C710.90,899.75 711.40,899.40 711.90,899.03 C712.40,898.66 712.90,898.28 713.40,897.88 C713.90,897.48 714.40,897.06 714.90,896.62 C715.40,896.18 715.90,895.73 716.40,895.25 C716.90,894.78 717.40,894.28 717.90,893.76 C718.40,893.24 718.90,892.69 719.40,892.12 C719.90,891.55 720.40,890.96 720.90,890.33 C721.40,889.71 721.90,889.06 722.40,888.38 C722.90,887.69 723.40,886.98 723.90,886.24 C724.40,885.49 724.90,884.72 725.40,883.91 C725.90,883.09 726.40,882.25 726.90,881.37 C727.40,880.50 727.90,879.59 728.40,878.64 C728.90,877.70 729.40,876.72 729.90,875.72 C730.40,874.71 730.90,873.67 731.40,872.62 C731.90,871.56 732.40,870.47 732.90,869.37 C733.40,868.26 733.90,867.14 734.40,866.01 C734.90,864.88 735.40,863.73 735.90,862.59 C736.40,861.45 736.90,860.30 737.40,859.17 C737.90,858.04 738.40,856.91 738.90,855.81 C739.40,854.70 739.90,853.60 740.40,852.54 C740.90,851.48 741.40,850.43 741.90,849.42 C742.40,848.41 742.90,847.43 743.40,846.48 C743.90,845.53 744.40,844.61 744.90,843.73 C745.40,842.84 745.90,841.99 746.40,841.18 C746.90,840.36 747.40,839.58 747.90,838.83 C748.40,838.08 748.90,837.37 749.40,836.68 C749.90,836.00 750.40,835.34 750.90,834.72 C751.40,834.09 751.90,833.50 752.40,832.93 C752.90,832.36 753.40,831.81 753.90,831.29 C754.40,830.77 754.90,830.28 755.40,829.80 C755.90,829.33 756.40,828.88 756.90,828.45 C757.40,828.01 757.90,827.60 758.40,827.21 C758.90,826.81 759.40,826.43 759.90,826.07 C760.40,825.71 760.90,825.37 761.40,825.03 C761.90,824.70 762.40,824.39 762.90,824.08 C763.40,823.78 763.90,823.49 764.40,823.21 C764.90,822.93 765.40,822.66 765.90,822.40 C766.40,822.15 766.90,821.90 767.40,821.66 C767.90,821.42 768.40,821.20 768.90,820.98 C769.40,820.76 769.90,820.54 770.40,820.34 C770.90,820.14 771.40,819.94 771.90,819.75 C772.40,819.56 772.90,819.38 773.40,819.21 C773.90,819.03 774.40,818.86 774.90,818.70 C775.40,818.54 775.90,818.38 776.40,818.23 C776.90,818.08 777.40,817.93 777.90,817.79 C778.40,817.65 778.90,817.51 779.40,817.38 C779.90,817.25 780.40,817.12 780.90,816.99 C781.40,816.87 781.90,816.75 782.40,816.64 C782.90,816.52 783.40,816.41 783.90,816.30 C784.40,816.19 784.90,816.09 785.40,815.98 C785.90,815.88 786.40,815.78 786.90,815.69 C787.40,815.59 787.90,815.50 788.40,815.41 C788.90,815.32 789.40,815.23 789.90,815.15 C790.40,815.06 790.90,814.98 791.40,814.90 C791.90,814.82 792.40,814.74 792.90,814.67 C793.40,814.59 793.90,814.52 794.40,814.45 C794.90,814.38 795.40,814.31 795.90,814.24 C796.40,814.17 796.90,814.11 797.40,814.05 C797.90,813.98 798.40,813.92 798.90,813.86 C799.40,813.80 799.90,813.74 800.40,813.69 C800.90,813.63 801.40,813.57 801.90,813.52 C802.40,813.47 802.90,813.41 803.40,813.36 C803.90,813.31 804.40,813.26 804.90,813.22 C805.40,813.17 805.90,813.12 806.40,813.07 C806.90,813.03 807.40,812.98 807.90,812.94 C808.40,812.90 808.90,812.85 809.40,812.81 C809.90,812.77 810.40,812.73 810.90,812.69 C811.40,812.65 811.90,812.62 812.40,812.58 C812.90,812.54 813.40,812.50 813.90,812.47 C814.40,812.43 814.90,812.40 815.40,812.36 C815.90,812.33 816.40,812.30 816.90,812.27 C817.40,812.23 817.90,812.20 818.40,812.17 C818.90,812.14 819.40,812.11 819.90,812.08 C820.40,812.05 820.90,812.02 821.40,811.99 C821.90,811.97 822.40,811.94 822.90,811.91 C823.40,811.89 823.90,811.86 824.40,811.83 C824.90,811.81 825.40,811.78 825.90,811.76 C826.40,811.73 826.90,811.71 827.40,811.69 C827.90,811.66 828.40,811.64 828.90,811.62 C829.40,811.59 829.90,811.57 830.40,811.55 C830.90,811.53 831.40,811.51 831.90,811.48 C832.40,811.46 832.90,811.44 833.40,811.42 C833.90,811.40 834.40,811.38 834.90,811.36 C835.40,811.34 836.07,811.32 836.40,811.31 C836.73,811.29 836.82,811.29 836.90,811.29" fill="none" stroke="#ff0000" stroke-width="4.80" stroke-linejoin="round" stroke-linecap="round" clip-path="url(#ch)"/>
<path d="M608.40,917.17 C608.65,917.15 609.40,917.11 609.90,917.08 C610.40,917.05 610.90,917.02 611.40,916.99 C611.90,916.96 612.40,916.93 612.90,916.90 C613.40,916.88 613.90,916.85 614.40,916.82 C614.90,916.79 615.40,916.76 615.90,916.73 C616.40,916.70 616.90,916.67 617.40,916.65 C617.90,916.62 618.40,916.59 618.90,916.56 C619.40,916.53 619.90,916.51 620.40,916.48 C620.90,916.45 621.40,916.42 621.90,916.40 C622.40,916.37 622.90,916.34 623.40,916.31 C623.90,916.29 624.40,916.26 624.90,916.23 C625.40,916.20 625.90,916.18 626.40,916.15 C626.90,916.12 627.40,916.10 627.90,916.07 C628.40,916.04 628.90,916.02 629.40,915.99 C629.90,915.96 630.40,915.94 630.90,915.91 C631.40,915.88 631.90,915.86 632.40,915.83 C632.90,915.81 633.40,915.78 633.90,915.75 C634.40,915.73 634.90,915.70 635.40,915.68 C635.90,915.65 636.40,915.62 636.90,915.60 C637.40,915.57 637.90,915.55 638.40,915.52 C638.90,915.50 639.40,915.47 639.90,915.44 C640.40,915.42 640.90,915.39 641.40,915.37 C641.90,915.34 642.40,915.32 642.90,915.29 C643.40,915.27 643.90,915.24 644.40,915.22 C644.90,915.19 645.40,915.17 645.90,915.14 C646.40,915.12 646.90,915.09 647.40,915.06 C647.90,915.04 648.40,915.01 648.90,914.99 C649.40,914.96 649.90,914.94 650.40,914.91 C650.90,914.89 651.40,914.86 651.90,914.84 C652.40,914.81 652.90,914.79 653.40,914.76 C653.90,914.74 654.40,914.71 654.90,914.68 C655.40,914.66 655.90,914.63 656.40,914.61 C656.90,914.58 657.40,914.56 657.90,914.53 C658.40,914.51 658.90,914.48 659.40,914.45 C659.90,914.43 660.40,914.40 660.90,914.38 C661.40,914.35 661.90,914.32 662.40,914.30 C662.90,914.27 663.40,914.24 663.90,914.22 C664.40,914.19 664.90,914.16 665.40,914.14 C665.90,914.11 666.40,914.08 666.90,914.06 C667.40,914.03 667.90,914.00 668.40,913.97 C668.90,913.95 669.40,913.92 669.90,913.89 C670.40,913.86 670.90,913.84 671.40,913.81 C671.90,913.78 672.40,913.75 672.90,913.72 C673.40,913.69 673.90,913.66 674.40,913.63 C674.90,913.60 675.40,913.57 675.90,913.54 C676.40,913.51 676.90,913.48 677.40,913.45 C677.90,913.42 678.40,913.39 678.90,913.36 C679.40,913.33 679.90,913.30 680.40,913.26 C680.90,913.23 681.40,913.20 681.90,913.16 C682.40,913.13 682.90,913.10 683.40,913.06 C683.90,913.03 684.40,913.00 684.90,912.96 C685.40,912.92 685.90,912.89 686.40,912.85 C686.90,912.82 687.40,912.78 687.90,912.74 C688.40,912.71 688.90,912.67 689.40,912.63 C689.90,912.59 690.40,912.55 690.90,912.51 C691.40,912.47 691.90,912.43 692.40,912.39 C692.90,912.35 693.40,912.31 693.90,912.26 C694.40,912.22 694.90,912.18 695.40,912.13 C695.90,912.09 696.40,912.04 696.90,911.99 C697.40,911.95 697.90,911.90 698.40,911.85 C698.90,911.80 699.40,911.75 699.90,911.70 C700.40,911.65 700.90,911.60 701.40,911.55 C701.90,911.49 702.40,911.44 702.90,911.38 C703.40,911.33 703.90,911.27 704.40,911.21 C704.90,911.15 705.40,911.09 705.90,911.03 C706.40,910.97 706.90,910.91 707.40,910.84 C707.90,910.78 708.40,910.71 708.90,910.65 C709.40,910.58 709.90,910.51 710.40,910.44 C710.90,910.37 711.40,910.29 711.90,910.22 C712.40,910.14 712.90,910.06 713.40,909.98 C713.90,909.90 714.40,909.82 714.90,909.74 C715.40,909.65 715.90,909.56 716.40,909.47 C716.90,909.38 717.40,909.29 717.90,909.19 C718.40,909.10 718.90,909.00 719.40,908.90 C719.90,908.80 720.40,908.69 720.90,908.58 C721.40,908.47 721.90,908.36 722.40,908.24 C722.90,908.13 723.40,908.01 723.90,907.88 C724.40,907.76 724.90,907.63 725.40,907.49 C725.90,907.36 726.40,907.22 726.90,907.08 C727.40,906.93 727.90,906.78 728.40,906.63 C728.90,906.47 729.40,906.31 729.90,906.15 C730.40,905.98 730.90,905.80 731.40,905.62 C731.90,905.44 732.40,905.25 732.90,905.06 C733.40,904.86 733.90,904.65 734.40,904.44 C734.90,904.23 735.40,904.00 735.90,903.77 C736.40,903.53 736.90,903.29 737.40,903.04 C737.90,902.78 738.40,902.51 738.90,902.23 C739.40,901.95 739.90,901.66 740.40,901.35 C740.90,901.04 741.40,900.72 741.90,900.38 C742.40,900.03 742.90,899.68 743.40,899.30 C743.90,898.92 744.40,898.53 744.90,898.11 C745.40,897.69 745.90,897.25 746.40,896.78 C746.90,896.31 747.40,895.82 747.90,895.30 C748.40,894.78 748.90,894.23 749.40,893.64 C749.90,893.06 750.40,892.44 750.90,891.79 C751.40,891.13 751.90,890.44 752.40,889.70 C752.90,888.97 753.40,888.19 753.90,887.36 C754.40,886.54 754.90,885.67 755.40,884.74 C755.90,883.82 756.40,882.84 756.90,881.82 C757.40,880.79 757.90,879.70 758.40,878.57 C758.90,877.43 759.40,876.24 759.90,875.00 C760.40,873.76 760.90,872.47 761.40,871.14 C761.90,869.81 762.40,868.43 762.90,867.04 C763.40,865.64 763.90,864.21 764.40,862.77 C764.90,861.34 765.40,859.88 765.90,858.45 C766.40,857.02 766.90,855.58 767.40,854.18 C767.90,852.79 768.40,851.40 768.90,850.07 C769.40,848.74 769.90,847.44 770.40,846.20 C770.90,844.96 771.40,843.76 771.90,842.62 C772.40,841.48 772.90,840.39 773.40,839.35 C773.90,838.32 774.40,837.34 774.90,836.41 C775.40,835.48 775.90,834.60 776.40,833.77 C776.90,832.93 777.40,832.15 777.90,831.41 C778.40,830.67 778.90,829.97 779.40,829.31 C779.90,828.64 780.40,828.02 780.90,827.43 C781.40,826.84 781.90,826.28 782.40,825.75 C782.90,825.22 783.40,824.73 783.90,824.25 C784.40,823.78 784.90,823.33 785.40,822.90 C785.90,822.48 786.40,822.07 786.90,821.69 C787.40,821.30 787.90,820.94 788.40,820.59 C788.90,820.24 789.40,819.91 789.90,819.59 C790.40,819.27 790.90,818.97 791.40,818.68 C791.90,818.39 792.40,818.12 792.90,817.86 C793.40,817.59 793.90,817.34 794.40,817.10 C794.90,816.85 795.40,816.62 795.90,816.40 C796.40,816.17 796.90,815.96 797.40,815.75 C797.90,815.55 798.40,815.35 798.90,815.16 C799.40,814.97 799.90,814.78 800.40,814.60 C800.90,814.43 801.40,814.26 801.90,814.09 C802.40,813.92 802.90,813.76 803.40,813.61 C803.90,813.45 804.40,813.30 804.90,813.16 C805.40,813.01 805.90,812.87 806.40,812.74 C806.90,812.60 807.40,812.47 807.90,812.34 C808.40,812.21 808.90,812.09 809.40,811.97 C809.90,811.85 810.40,811.73 810.90,811.61 C811.40,811.50 811.90,811.39 812.40,811.28 C812.90,811.17 813.40,811.07 813.90,810.96 C814.40,810.86 814.90,810.76 815.40,810.66 C815.90,810.56 816.40,810.47 816.90,810.37 C817.40,810.28 817.90,810.19 818.40,810.10 C818.90,810.01 819.40,809.92 819.90,809.84 C820.40,809.75 820.90,809.67 821.40,809.58 C821.90,809.50 822.40,809.42 822.90,809.34 C823.40,809.26 823.90,809.19 824.40,809.11 C824.90,809.03 825.40,808.96 825.90,808.89 C826.40,808.81 826.90,808.74 827.40,808.67 C827.90,808.60 828.40,808.53 828.90,808.46 C829.40,808.39 829.90,808.32 830.40,808.26 C830.90,808.19 831.40,808.12 831.90,808.06 C832.40,807.99 832.90,807.93 833.40,807.87 C833.90,807.81 834.40,807.74 834.90,807.68 C835.40,807.62 836.07,807.54 836.40,807.50 C836.73,807.46 836.82,807.45 836.90,807.44" fill="none" stroke="#0000ff" stroke-width="4.80" stroke-linejoin="round" stroke-linecap="round" clip-path="url(#ch)"/>
<line x1="344.40" y1="8.10" x2="344.40" y2="231.40" stroke="#000" stroke-width="2.6" stroke-dasharray="18.30 18.40" stroke-dashoffset="9.00"/>
<line x1="344.40" y1="278.80" x2="344.40" y2="501.30" stroke="#000" stroke-width="2.6" stroke-dasharray="18.30 18.40" stroke-dashoffset="6.90"/>
<line x1="468.60" y1="8.10" x2="468.60" y2="231.40" stroke="#000" stroke-width="2.6" stroke-dasharray="18.30 18.40" stroke-dashoffset="9.00"/>
<line x1="468.60" y1="278.80" x2="468.60" y2="501.30" stroke="#000" stroke-width="2.6" stroke-dasharray="18.30 18.40" stroke-dashoffset="6.90"/>
<line x1="501.20" y1="8.10" x2="501.20" y2="231.40" stroke="#000" stroke-width="2.6" stroke-dasharray="18.30 18.40" stroke-dashoffset="9.00"/>
<line x1="501.20" y1="278.80" x2="501.20" y2="501.30" stroke="#000" stroke-width="2.6" stroke-dasharray="18.30 18.40" stroke-dashoffset="6.90"/>
<line x1="757.60" y1="636.00" x2="757.60" y2="771.30" stroke="#000" stroke-width="2.6" stroke-dasharray="16.70 16.40" stroke-dashoffset="6.70"/>
<line x1="757.60" y1="807.00" x2="757.60" y2="942.30" stroke="#000" stroke-width="2.6" stroke-dasharray="16.70 16.40" stroke-dashoffset="7.10"/>
<path d="M726,826.2H773.1M726,885.7H773.1" stroke="#000" stroke-width="2.4" fill="none"/>
<path d="M730.6,838V876" stroke="#000" stroke-width="2.3" fill="none"/>
<path d="M730.6,830 L738.4,844.2 L730.6,841.2 L722.7,844.2 Z M730.6,883.9 L738.4,869.9 L730.6,872.6 L722.7,869.9 Z" fill="#000"/>
<g transform="translate(114.25,49.80)"><text xml:space="preserve" x="0.00" y="0.00" style="font-family:'Liberation Sans',sans-serif;font-size:29.50px">0</text></g>
<g transform="translate(56.10,145.60)"><text xml:space="preserve" x="0.00" y="0.00" style="font-family:'Liberation Sans',sans-serif;font-size:29.50px">−0.25</text></g>
<g transform="translate(72.50,241.40)"><text xml:space="preserve" x="0.00" y="0.00" style="font-family:'Liberation Sans',sans-serif;font-size:29.50px">−0.5</text></g>
<g transform="translate(87.43,323.80)"><text xml:space="preserve" x="0.00" y="0.00" style="font-family:'Liberation Sans',sans-serif;font-size:29.50px">0.1</text></g>
<g transform="translate(72.72,419.00)"><text xml:space="preserve" x="0.00" y="0.00" style="font-family:'Liberation Sans',sans-serif;font-size:29.50px">0.05</text></g>
<g transform="translate(113.65,514.00)"><text xml:space="preserve" x="0.00" y="0.00" style="font-family:'Liberation Sans',sans-serif;font-size:29.50px">0</text></g>
<g transform="translate(323.84,538.10)"><text xml:space="preserve" x="0.00" y="0.00" style="font-family:'Liberation Sans',sans-serif;font-size:29.50px">0.5</text></g>
<g transform="translate(580.29,538.10)"><text xml:space="preserve" x="0.00" y="0.00" style="font-family:'Liberation Sans',sans-serif;font-size:29.50px">1</text></g>
<g transform="translate(813.09,538.10)"><text xml:space="preserve" x="0.00" y="0.00" style="font-family:'Liberation Sans',sans-serif;font-size:29.50px">1.5</text></g>
<text xml:space="preserve" x="404.48" y="582.60" style="font-family:'Liberation Serif',serif;font-size:29.50px">Δ</text>
<g transform="translate(422.28,582.60) scale(1.170,1)"><text xml:space="preserve" x="0.00" y="0.00" style="font-family:'Liberation Serif',serif;font-size:29.50px">θ</text></g>
<text xml:space="preserve" x="445.12" y="582.70" style="font-family:'Liberation Sans',sans-serif;font-size:28.70px">(cav. per.)</text>
<text xml:space="preserve" x="172.87" y="36.60" style="font-family:'Liberation Sans',sans-serif;font-size:42.00px;font-weight:bold">a</text>
<text xml:space="preserve" x="172.63" y="310.50" style="font-family:'Liberation Sans',sans-serif;font-size:42.00px;font-weight:bold">b</text>
<text xml:space="preserve" x="160.36" y="666.60" style="font-family:'Liberation Sans',sans-serif;font-size:42.00px;font-weight:bold">c</text>
<text xml:space="preserve" x="384.48" y="666.40" style="font-family:'Liberation Sans',sans-serif;font-size:42.00px;font-weight:bold">d</text>
<text xml:space="preserve" x="628.16" y="666.60" style="font-family:'Liberation Sans',sans-serif;font-size:42.00px;font-weight:bold">e</text>
<text xml:space="preserve" x="159.98" y="838.50" style="font-family:'Liberation Sans',sans-serif;font-size:42.00px;font-weight:bold">f</text>
<text xml:space="preserve" x="384.48" y="838.70" style="font-family:'Liberation Sans',sans-serif;font-size:42.00px;font-weight:bold">g</text>
<text xml:space="preserve" x="628.67" y="838.50" style="font-family:'Liberation Sans',sans-serif;font-size:42.00px;font-weight:bold">h</text>
<text xml:space="preserve" x="290.22" y="207.50" style="font-family:'Liberation Sans',sans-serif;font-size:29.50px;font-style:italic">(c,f)</text>
<text xml:space="preserve" x="403.92" y="207.50" style="font-family:'Liberation Sans',sans-serif;font-size:29.50px;font-style:italic">(d,g)</text>
<text xml:space="preserve" x="514.12" y="207.50" style="font-family:'Liberation Sans',sans-serif;font-size:29.50px;font-style:italic">(e,h)</text>
<g transform="translate(72.51,652.20)"><text xml:space="preserve" x="0.00" y="0.00" style="font-family:'Liberation Sans',sans-serif;font-size:30.50px">Max</text></g>
<g transform="translate(113.95,783.70)"><text xml:space="preserve" x="0.00" y="0.00" style="font-family:'Liberation Sans',sans-serif;font-size:29.50px">0</text></g>
<text xml:space="preserve" x="73.08" y="822.70" style="font-family:'Liberation Sans',sans-serif;font-size:29.50px">3</text>
<text xml:space="preserve" x="89.78" y="822.70" style="font-family:'Liberation Serif',serif;font-size:31.00px">π</text>
<text xml:space="preserve" x="105.10" y="822.70" style="font-family:'Liberation Sans',sans-serif;font-size:29.50px">/2</text>
<text xml:space="preserve" x="114.78" y="883.80" style="font-family:'Liberation Serif',serif;font-size:31.00px">π</text>
<text xml:space="preserve" x="90.18" y="944.40" style="font-family:'Liberation Serif',serif;font-size:31.00px">π</text>
<text xml:space="preserve" x="105.50" y="944.40" style="font-family:'Liberation Sans',sans-serif;font-size:29.50px">/2</text>
<text xml:space="preserve" x="678.68" y="868.50" style="font-family:'Liberation Serif',serif;font-size:31.00px">π</text>
<text xml:space="preserve" x="694.00" y="868.50" style="font-family:'Liberation Sans',sans-serif;font-size:29.50px">/2</text>
<g transform="translate(149.80,979.10)"><text xml:space="preserve" x="0.00" y="0.00" style="font-family:'Liberation Sans',sans-serif;font-size:29.50px">−0.4</text></g>
<g transform="translate(224.35,979.10)"><text xml:space="preserve" x="0.00" y="0.00" style="font-family:'Liberation Sans',sans-serif;font-size:29.50px">−0.2</text></g>
<g transform="translate(319.48,979.10)"><text xml:space="preserve" x="0.00" y="0.00" style="font-family:'Liberation Sans',sans-serif;font-size:29.50px">0</text></g>
<g transform="translate(384.29,979.10)"><text xml:space="preserve" x="0.00" y="0.00" style="font-family:'Liberation Sans',sans-serif;font-size:29.50px">−0.4</text></g>
<g transform="translate(458.80,979.10)"><text xml:space="preserve" x="0.00" y="0.00" style="font-family:'Liberation Sans',sans-serif;font-size:29.50px">−0.2</text></g>
<g transform="translate(553.90,979.10)"><text xml:space="preserve" x="0.00" y="0.00" style="font-family:'Liberation Sans',sans-serif;font-size:29.50px">0</text></g>
<g transform="translate(618.37,979.10)"><text xml:space="preserve" x="0.00" y="0.00" style="font-family:'Liberation Sans',sans-serif;font-size:29.50px">−0.4</text></g>
<g transform="translate(692.85,979.10)"><text xml:space="preserve" x="0.00" y="0.00" style="font-family:'Liberation Sans',sans-serif;font-size:29.50px">−0.2</text></g>
<g transform="translate(787.91,979.10)"><text xml:space="preserve" x="0.00" y="0.00" style="font-family:'Liberation Sans',sans-serif;font-size:29.50px">0</text></g>
<text xml:space="preserve" x="418.57" y="1026.40" style="font-family:'Liberation Serif',serif;font-size:34.00px">ω</text>
<text xml:space="preserve" x="438.69" y="1026.40" style="font-family:'Liberation Sans',sans-serif;font-size:29.50px">-</text>
<text xml:space="preserve" x="448.57" y="1026.40" style="font-family:'Liberation Serif',serif;font-size:34.00px">ω</text>
<text xml:space="preserve" x="468.21" y="1034.20" style="font-family:'Liberation Sans',sans-serif;font-size:21.00px">c</text>
<text xml:space="preserve" x="484.37" y="1026.40" style="font-family:'Liberation Sans',sans-serif;font-size:29.50px">(THz)</text>
<g transform="translate(42.30,766.86) rotate(-90)"><text xml:space="preserve" x="0.00" y="0.00" style="font-family:'Liberation Sans',sans-serif;font-size:29.50px">Amplitude</text></g>
<g transform="translate(42.20,916.42) rotate(-90)"><text xml:space="preserve" x="0.00" y="0.00" style="font-family:'Liberation Sans',sans-serif;font-size:29.50px">Phase</text></g>
<g transform="translate(24.40,210.46) rotate(-90)"><text xml:space="preserve" x="0.00" y="0.00" style="font-family:'Liberation Sans',sans-serif;font-size:29.50px">re(</text></g>
<g transform="translate(24.40,174.46) rotate(-90)"><g transform="scale(0.950,1)"><text xml:space="preserve" x="0.00" y="0.00" style="font-family:'Liberation Serif',serif;font-size:34.00px">ω</text></g></g>
<g transform="translate(24.40,153.16) rotate(-90)"><g transform="scale(0.910,1)"><text xml:space="preserve" x="0.00" y="0.00" style="font-family:'Liberation Sans',sans-serif;font-size:29.50px">)-</text></g></g>
<g transform="translate(24.40,135.53) rotate(-90)"><text xml:space="preserve" x="0.00" y="0.00" style="font-family:'Liberation Serif',serif;font-size:34.00px">ω</text></g>
<g transform="translate(33.00,114.56) rotate(-90)"><g transform="scale(0.850,1)"><text xml:space="preserve" x="0.00" y="0.00" style="font-family:'Liberation Sans',sans-serif;font-size:20.00px">0</text></g></g>
<g transform="translate(24.40,96.03) rotate(-90)"><text xml:space="preserve" x="0.00" y="0.00" style="font-family:'Liberation Sans',sans-serif;font-size:29.50px">(THz)</text></g>
<path d="M1.5,157.3 C4.2,159.6 3.4,162.2 2.3,164.3 S0.2,168.8 3.0,170.6" fill="none" stroke="#000" stroke-width="1.4" stroke-linecap="round"/>
<g transform="translate(33.00,464.47) rotate(-90)"><text xml:space="preserve" x="0.00" y="0.00" style="font-family:'Liberation Sans',sans-serif;font-size:29.50px">im(</text></g>
<g transform="translate(33.00,424.33) rotate(-90)"><text xml:space="preserve" x="0.00" y="0.00" style="font-family:'Liberation Serif',serif;font-size:34.00px">ω</text></g>
<g transform="translate(33.00,403.17) rotate(-90)"><text xml:space="preserve" x="0.00" y="0.00" style="font-family:'Liberation Sans',sans-serif;font-size:29.50px">)</text></g>
<g transform="translate(33.00,386.63) rotate(-90)"><text xml:space="preserve" x="0.00" y="0.00" style="font-family:'Liberation Sans',sans-serif;font-size:29.50px">(THz)</text></g>
<path d="M9.7,407.6 C12.4,409.9 11.6,412.9 10.5,415.1 S8.4,419.8 11.2,421.8" fill="none" stroke="#000" stroke-width="1.4" stroke-linecap="round"/>
</svg>
</body></html>
